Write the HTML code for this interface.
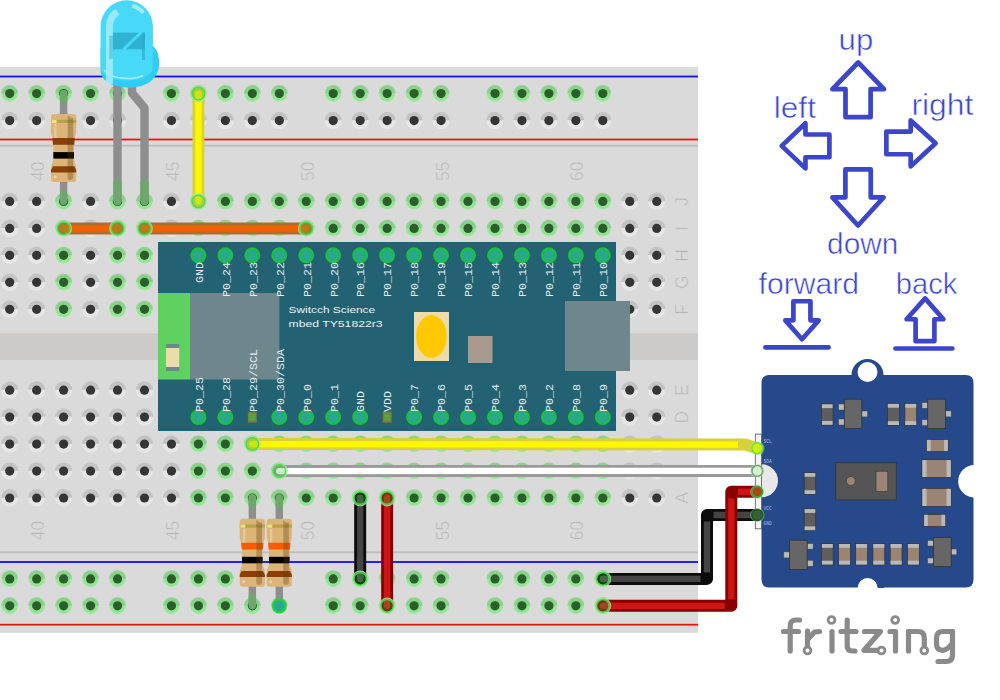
<!DOCTYPE html>
<html><head><meta charset="utf-8"><style>
html,body{margin:0;padding:0;background:#fff;width:1000px;height:700px;overflow:hidden}
svg{display:block}
text{font-family:"Liberation Sans",sans-serif}
</style></head><body>
<svg width="1000" height="700" viewBox="0 0 1000 700">
<rect x="0" y="0" width="1000" height="700" fill="#fff"/>
<rect x="-5" y="66.8" width="703" height="566" fill="#dadada"/>
<rect x="-5" y="333.3" width="703" height="26.7" fill="#cdcbc9"/>
<rect x="-5" y="75.6" width="703" height="1.8" fill="#1010f0"/>
<rect x="-5" y="138.6" width="703" height="1.8" fill="#f01010"/>
<rect x="-5" y="144.8" width="703" height="1.8" fill="#bdbdbd"/>
<rect x="-5" y="551.4" width="703" height="1.8" fill="#bdbdbd"/>
<rect x="-5" y="561.1" width="703" height="1.8" fill="#1010f0"/>
<rect x="-5" y="623.8" width="703" height="1.8" fill="#f01010"/>
<g transform="translate(9.70,93.60)"><circle r="8.6" fill="#e4e4e4"/><path d="M-8.6,-0.3A8.6,8.6 0 0 1 8.6,-0.3Z" fill="#c4c4c4"/><circle r="8.3" fill="#3ee83e" fill-opacity="0.42"/><circle r="6.8" fill="#3ee83e" fill-opacity="0.12"/><circle r="4.6" fill="#2b5e2b"/></g>
<g transform="translate(9.70,120.56)"><circle r="8.6" fill="#e6e6e6"/><path d="M-8.6,-0.3A8.6,8.6 0 0 1 8.6,-0.3Z" fill="#c3c3c3"/><circle r="4.6" fill="#353535"/></g>
<g transform="translate(9.70,578.88)"><circle r="8.6" fill="#e4e4e4"/><path d="M-8.6,-0.3A8.6,8.6 0 0 1 8.6,-0.3Z" fill="#c4c4c4"/><circle r="8.3" fill="#3ee83e" fill-opacity="0.42"/><circle r="6.8" fill="#3ee83e" fill-opacity="0.12"/><circle r="4.6" fill="#2b5e2b"/></g>
<g transform="translate(9.70,605.84)"><circle r="8.6" fill="#e4e4e4"/><path d="M-8.6,-0.3A8.6,8.6 0 0 1 8.6,-0.3Z" fill="#c4c4c4"/><circle r="8.3" fill="#3ee83e" fill-opacity="0.42"/><circle r="6.8" fill="#3ee83e" fill-opacity="0.12"/><circle r="4.6" fill="#2b5e2b"/></g>
<g transform="translate(36.66,93.60)"><circle r="8.6" fill="#e4e4e4"/><path d="M-8.6,-0.3A8.6,8.6 0 0 1 8.6,-0.3Z" fill="#c4c4c4"/><circle r="8.3" fill="#3ee83e" fill-opacity="0.42"/><circle r="6.8" fill="#3ee83e" fill-opacity="0.12"/><circle r="4.6" fill="#2b5e2b"/></g>
<g transform="translate(36.66,120.56)"><circle r="8.6" fill="#e6e6e6"/><path d="M-8.6,-0.3A8.6,8.6 0 0 1 8.6,-0.3Z" fill="#c3c3c3"/><circle r="4.6" fill="#353535"/></g>
<g transform="translate(36.66,578.88)"><circle r="8.6" fill="#e4e4e4"/><path d="M-8.6,-0.3A8.6,8.6 0 0 1 8.6,-0.3Z" fill="#c4c4c4"/><circle r="8.3" fill="#3ee83e" fill-opacity="0.42"/><circle r="6.8" fill="#3ee83e" fill-opacity="0.12"/><circle r="4.6" fill="#2b5e2b"/></g>
<g transform="translate(36.66,605.84)"><circle r="8.6" fill="#e4e4e4"/><path d="M-8.6,-0.3A8.6,8.6 0 0 1 8.6,-0.3Z" fill="#c4c4c4"/><circle r="8.3" fill="#3ee83e" fill-opacity="0.42"/><circle r="6.8" fill="#3ee83e" fill-opacity="0.12"/><circle r="4.6" fill="#2b5e2b"/></g>
<g transform="translate(63.62,93.60)"><circle r="8.6" fill="#e4e4e4"/><path d="M-8.6,-0.3A8.6,8.6 0 0 1 8.6,-0.3Z" fill="#c4c4c4"/><circle r="8.3" fill="#3ee83e" fill-opacity="0.42"/><circle r="6.8" fill="#3ee83e" fill-opacity="0.12"/><circle r="4.6" fill="#2b5e2b"/></g>
<g transform="translate(63.62,120.56)"><circle r="8.6" fill="#e6e6e6"/><path d="M-8.6,-0.3A8.6,8.6 0 0 1 8.6,-0.3Z" fill="#c3c3c3"/><circle r="4.6" fill="#353535"/></g>
<g transform="translate(63.62,578.88)"><circle r="8.6" fill="#e4e4e4"/><path d="M-8.6,-0.3A8.6,8.6 0 0 1 8.6,-0.3Z" fill="#c4c4c4"/><circle r="8.3" fill="#3ee83e" fill-opacity="0.42"/><circle r="6.8" fill="#3ee83e" fill-opacity="0.12"/><circle r="4.6" fill="#2b5e2b"/></g>
<g transform="translate(63.62,605.84)"><circle r="8.6" fill="#e4e4e4"/><path d="M-8.6,-0.3A8.6,8.6 0 0 1 8.6,-0.3Z" fill="#c4c4c4"/><circle r="8.3" fill="#3ee83e" fill-opacity="0.42"/><circle r="6.8" fill="#3ee83e" fill-opacity="0.12"/><circle r="4.6" fill="#2b5e2b"/></g>
<g transform="translate(90.58,93.60)"><circle r="8.6" fill="#e4e4e4"/><path d="M-8.6,-0.3A8.6,8.6 0 0 1 8.6,-0.3Z" fill="#c4c4c4"/><circle r="8.3" fill="#3ee83e" fill-opacity="0.42"/><circle r="6.8" fill="#3ee83e" fill-opacity="0.12"/><circle r="4.6" fill="#2b5e2b"/></g>
<g transform="translate(90.58,120.56)"><circle r="8.6" fill="#e6e6e6"/><path d="M-8.6,-0.3A8.6,8.6 0 0 1 8.6,-0.3Z" fill="#c3c3c3"/><circle r="4.6" fill="#353535"/></g>
<g transform="translate(90.58,578.88)"><circle r="8.6" fill="#e4e4e4"/><path d="M-8.6,-0.3A8.6,8.6 0 0 1 8.6,-0.3Z" fill="#c4c4c4"/><circle r="8.3" fill="#3ee83e" fill-opacity="0.42"/><circle r="6.8" fill="#3ee83e" fill-opacity="0.12"/><circle r="4.6" fill="#2b5e2b"/></g>
<g transform="translate(90.58,605.84)"><circle r="8.6" fill="#e4e4e4"/><path d="M-8.6,-0.3A8.6,8.6 0 0 1 8.6,-0.3Z" fill="#c4c4c4"/><circle r="8.3" fill="#3ee83e" fill-opacity="0.42"/><circle r="6.8" fill="#3ee83e" fill-opacity="0.12"/><circle r="4.6" fill="#2b5e2b"/></g>
<g transform="translate(117.54,93.60)"><circle r="8.6" fill="#e4e4e4"/><path d="M-8.6,-0.3A8.6,8.6 0 0 1 8.6,-0.3Z" fill="#c4c4c4"/><circle r="8.3" fill="#3ee83e" fill-opacity="0.42"/><circle r="6.8" fill="#3ee83e" fill-opacity="0.12"/><circle r="4.6" fill="#2b5e2b"/></g>
<g transform="translate(117.54,120.56)"><circle r="8.6" fill="#e6e6e6"/><path d="M-8.6,-0.3A8.6,8.6 0 0 1 8.6,-0.3Z" fill="#c3c3c3"/><circle r="4.6" fill="#353535"/></g>
<g transform="translate(117.54,578.88)"><circle r="8.6" fill="#e4e4e4"/><path d="M-8.6,-0.3A8.6,8.6 0 0 1 8.6,-0.3Z" fill="#c4c4c4"/><circle r="8.3" fill="#3ee83e" fill-opacity="0.42"/><circle r="6.8" fill="#3ee83e" fill-opacity="0.12"/><circle r="4.6" fill="#2b5e2b"/></g>
<g transform="translate(117.54,605.84)"><circle r="8.6" fill="#e4e4e4"/><path d="M-8.6,-0.3A8.6,8.6 0 0 1 8.6,-0.3Z" fill="#c4c4c4"/><circle r="8.3" fill="#3ee83e" fill-opacity="0.42"/><circle r="6.8" fill="#3ee83e" fill-opacity="0.12"/><circle r="4.6" fill="#2b5e2b"/></g>
<g transform="translate(171.46,93.60)"><circle r="8.6" fill="#e4e4e4"/><path d="M-8.6,-0.3A8.6,8.6 0 0 1 8.6,-0.3Z" fill="#c4c4c4"/><circle r="8.3" fill="#3ee83e" fill-opacity="0.42"/><circle r="6.8" fill="#3ee83e" fill-opacity="0.12"/><circle r="4.6" fill="#2b5e2b"/></g>
<g transform="translate(171.46,120.56)"><circle r="8.6" fill="#e6e6e6"/><path d="M-8.6,-0.3A8.6,8.6 0 0 1 8.6,-0.3Z" fill="#c3c3c3"/><circle r="4.6" fill="#353535"/></g>
<g transform="translate(171.46,578.88)"><circle r="8.6" fill="#e4e4e4"/><path d="M-8.6,-0.3A8.6,8.6 0 0 1 8.6,-0.3Z" fill="#c4c4c4"/><circle r="8.3" fill="#3ee83e" fill-opacity="0.42"/><circle r="6.8" fill="#3ee83e" fill-opacity="0.12"/><circle r="4.6" fill="#2b5e2b"/></g>
<g transform="translate(171.46,605.84)"><circle r="8.6" fill="#e4e4e4"/><path d="M-8.6,-0.3A8.6,8.6 0 0 1 8.6,-0.3Z" fill="#c4c4c4"/><circle r="8.3" fill="#3ee83e" fill-opacity="0.42"/><circle r="6.8" fill="#3ee83e" fill-opacity="0.12"/><circle r="4.6" fill="#2b5e2b"/></g>
<g transform="translate(198.42,93.60)"><circle r="8.6" fill="#e4e4e4"/><path d="M-8.6,-0.3A8.6,8.6 0 0 1 8.6,-0.3Z" fill="#c4c4c4"/><circle r="8.3" fill="#3ee83e" fill-opacity="0.42"/><circle r="6.8" fill="#3ee83e" fill-opacity="0.12"/><circle r="4.6" fill="#2b5e2b"/></g>
<g transform="translate(198.42,120.56)"><circle r="8.6" fill="#e6e6e6"/><path d="M-8.6,-0.3A8.6,8.6 0 0 1 8.6,-0.3Z" fill="#c3c3c3"/><circle r="4.6" fill="#353535"/></g>
<g transform="translate(198.42,578.88)"><circle r="8.6" fill="#e4e4e4"/><path d="M-8.6,-0.3A8.6,8.6 0 0 1 8.6,-0.3Z" fill="#c4c4c4"/><circle r="8.3" fill="#3ee83e" fill-opacity="0.42"/><circle r="6.8" fill="#3ee83e" fill-opacity="0.12"/><circle r="4.6" fill="#2b5e2b"/></g>
<g transform="translate(198.42,605.84)"><circle r="8.6" fill="#e4e4e4"/><path d="M-8.6,-0.3A8.6,8.6 0 0 1 8.6,-0.3Z" fill="#c4c4c4"/><circle r="8.3" fill="#3ee83e" fill-opacity="0.42"/><circle r="6.8" fill="#3ee83e" fill-opacity="0.12"/><circle r="4.6" fill="#2b5e2b"/></g>
<g transform="translate(225.38,93.60)"><circle r="8.6" fill="#e4e4e4"/><path d="M-8.6,-0.3A8.6,8.6 0 0 1 8.6,-0.3Z" fill="#c4c4c4"/><circle r="8.3" fill="#3ee83e" fill-opacity="0.42"/><circle r="6.8" fill="#3ee83e" fill-opacity="0.12"/><circle r="4.6" fill="#2b5e2b"/></g>
<g transform="translate(225.38,120.56)"><circle r="8.6" fill="#e6e6e6"/><path d="M-8.6,-0.3A8.6,8.6 0 0 1 8.6,-0.3Z" fill="#c3c3c3"/><circle r="4.6" fill="#353535"/></g>
<g transform="translate(225.38,578.88)"><circle r="8.6" fill="#e4e4e4"/><path d="M-8.6,-0.3A8.6,8.6 0 0 1 8.6,-0.3Z" fill="#c4c4c4"/><circle r="8.3" fill="#3ee83e" fill-opacity="0.42"/><circle r="6.8" fill="#3ee83e" fill-opacity="0.12"/><circle r="4.6" fill="#2b5e2b"/></g>
<g transform="translate(225.38,605.84)"><circle r="8.6" fill="#e4e4e4"/><path d="M-8.6,-0.3A8.6,8.6 0 0 1 8.6,-0.3Z" fill="#c4c4c4"/><circle r="8.3" fill="#3ee83e" fill-opacity="0.42"/><circle r="6.8" fill="#3ee83e" fill-opacity="0.12"/><circle r="4.6" fill="#2b5e2b"/></g>
<g transform="translate(252.34,93.60)"><circle r="8.6" fill="#e4e4e4"/><path d="M-8.6,-0.3A8.6,8.6 0 0 1 8.6,-0.3Z" fill="#c4c4c4"/><circle r="8.3" fill="#3ee83e" fill-opacity="0.42"/><circle r="6.8" fill="#3ee83e" fill-opacity="0.12"/><circle r="4.6" fill="#2b5e2b"/></g>
<g transform="translate(252.34,120.56)"><circle r="8.6" fill="#e6e6e6"/><path d="M-8.6,-0.3A8.6,8.6 0 0 1 8.6,-0.3Z" fill="#c3c3c3"/><circle r="4.6" fill="#353535"/></g>
<g transform="translate(252.34,578.88)"><circle r="8.6" fill="#e4e4e4"/><path d="M-8.6,-0.3A8.6,8.6 0 0 1 8.6,-0.3Z" fill="#c4c4c4"/><circle r="8.3" fill="#3ee83e" fill-opacity="0.42"/><circle r="6.8" fill="#3ee83e" fill-opacity="0.12"/><circle r="4.6" fill="#2b5e2b"/></g>
<g transform="translate(252.34,605.84)"><circle r="8.6" fill="#e4e4e4"/><path d="M-8.6,-0.3A8.6,8.6 0 0 1 8.6,-0.3Z" fill="#c4c4c4"/><circle r="8.3" fill="#3ee83e" fill-opacity="0.42"/><circle r="6.8" fill="#3ee83e" fill-opacity="0.12"/><circle r="4.6" fill="#2b5e2b"/></g>
<g transform="translate(279.30,93.60)"><circle r="8.6" fill="#e4e4e4"/><path d="M-8.6,-0.3A8.6,8.6 0 0 1 8.6,-0.3Z" fill="#c4c4c4"/><circle r="8.3" fill="#3ee83e" fill-opacity="0.42"/><circle r="6.8" fill="#3ee83e" fill-opacity="0.12"/><circle r="4.6" fill="#2b5e2b"/></g>
<g transform="translate(279.30,120.56)"><circle r="8.6" fill="#e6e6e6"/><path d="M-8.6,-0.3A8.6,8.6 0 0 1 8.6,-0.3Z" fill="#c3c3c3"/><circle r="4.6" fill="#353535"/></g>
<g transform="translate(279.30,578.88)"><circle r="8.6" fill="#e4e4e4"/><path d="M-8.6,-0.3A8.6,8.6 0 0 1 8.6,-0.3Z" fill="#c4c4c4"/><circle r="8.3" fill="#3ee83e" fill-opacity="0.42"/><circle r="6.8" fill="#3ee83e" fill-opacity="0.12"/><circle r="4.6" fill="#2b5e2b"/></g>
<g transform="translate(279.30,605.84)"><circle r="8.6" fill="#e4e4e4"/><path d="M-8.6,-0.3A8.6,8.6 0 0 1 8.6,-0.3Z" fill="#c4c4c4"/><circle r="8.3" fill="#3ee83e" fill-opacity="0.42"/><circle r="6.8" fill="#3ee83e" fill-opacity="0.12"/><circle r="4.6" fill="#2b5e2b"/></g>
<g transform="translate(333.22,93.60)"><circle r="8.6" fill="#e4e4e4"/><path d="M-8.6,-0.3A8.6,8.6 0 0 1 8.6,-0.3Z" fill="#c4c4c4"/><circle r="8.3" fill="#3ee83e" fill-opacity="0.42"/><circle r="6.8" fill="#3ee83e" fill-opacity="0.12"/><circle r="4.6" fill="#2b5e2b"/></g>
<g transform="translate(333.22,120.56)"><circle r="8.6" fill="#e6e6e6"/><path d="M-8.6,-0.3A8.6,8.6 0 0 1 8.6,-0.3Z" fill="#c3c3c3"/><circle r="4.6" fill="#353535"/></g>
<g transform="translate(333.22,578.88)"><circle r="8.6" fill="#e4e4e4"/><path d="M-8.6,-0.3A8.6,8.6 0 0 1 8.6,-0.3Z" fill="#c4c4c4"/><circle r="8.3" fill="#3ee83e" fill-opacity="0.42"/><circle r="6.8" fill="#3ee83e" fill-opacity="0.12"/><circle r="4.6" fill="#2b5e2b"/></g>
<g transform="translate(333.22,605.84)"><circle r="8.6" fill="#e4e4e4"/><path d="M-8.6,-0.3A8.6,8.6 0 0 1 8.6,-0.3Z" fill="#c4c4c4"/><circle r="8.3" fill="#3ee83e" fill-opacity="0.42"/><circle r="6.8" fill="#3ee83e" fill-opacity="0.12"/><circle r="4.6" fill="#2b5e2b"/></g>
<g transform="translate(360.18,93.60)"><circle r="8.6" fill="#e4e4e4"/><path d="M-8.6,-0.3A8.6,8.6 0 0 1 8.6,-0.3Z" fill="#c4c4c4"/><circle r="8.3" fill="#3ee83e" fill-opacity="0.42"/><circle r="6.8" fill="#3ee83e" fill-opacity="0.12"/><circle r="4.6" fill="#2b5e2b"/></g>
<g transform="translate(360.18,120.56)"><circle r="8.6" fill="#e6e6e6"/><path d="M-8.6,-0.3A8.6,8.6 0 0 1 8.6,-0.3Z" fill="#c3c3c3"/><circle r="4.6" fill="#353535"/></g>
<g transform="translate(360.18,578.88)"><circle r="8.6" fill="#e4e4e4"/><path d="M-8.6,-0.3A8.6,8.6 0 0 1 8.6,-0.3Z" fill="#c4c4c4"/><circle r="8.3" fill="#3ee83e" fill-opacity="0.42"/><circle r="6.8" fill="#3ee83e" fill-opacity="0.12"/><circle r="4.6" fill="#2b5e2b"/></g>
<g transform="translate(360.18,605.84)"><circle r="8.6" fill="#e4e4e4"/><path d="M-8.6,-0.3A8.6,8.6 0 0 1 8.6,-0.3Z" fill="#c4c4c4"/><circle r="8.3" fill="#3ee83e" fill-opacity="0.42"/><circle r="6.8" fill="#3ee83e" fill-opacity="0.12"/><circle r="4.6" fill="#2b5e2b"/></g>
<g transform="translate(387.14,93.60)"><circle r="8.6" fill="#e4e4e4"/><path d="M-8.6,-0.3A8.6,8.6 0 0 1 8.6,-0.3Z" fill="#c4c4c4"/><circle r="8.3" fill="#3ee83e" fill-opacity="0.42"/><circle r="6.8" fill="#3ee83e" fill-opacity="0.12"/><circle r="4.6" fill="#2b5e2b"/></g>
<g transform="translate(387.14,120.56)"><circle r="8.6" fill="#e6e6e6"/><path d="M-8.6,-0.3A8.6,8.6 0 0 1 8.6,-0.3Z" fill="#c3c3c3"/><circle r="4.6" fill="#353535"/></g>
<g transform="translate(387.14,578.88)"><circle r="8.6" fill="#e4e4e4"/><path d="M-8.6,-0.3A8.6,8.6 0 0 1 8.6,-0.3Z" fill="#c4c4c4"/><circle r="8.3" fill="#3ee83e" fill-opacity="0.42"/><circle r="6.8" fill="#3ee83e" fill-opacity="0.12"/><circle r="4.6" fill="#2b5e2b"/></g>
<g transform="translate(387.14,605.84)"><circle r="8.6" fill="#e4e4e4"/><path d="M-8.6,-0.3A8.6,8.6 0 0 1 8.6,-0.3Z" fill="#c4c4c4"/><circle r="8.3" fill="#3ee83e" fill-opacity="0.42"/><circle r="6.8" fill="#3ee83e" fill-opacity="0.12"/><circle r="4.6" fill="#2b5e2b"/></g>
<g transform="translate(414.10,93.60)"><circle r="8.6" fill="#e4e4e4"/><path d="M-8.6,-0.3A8.6,8.6 0 0 1 8.6,-0.3Z" fill="#c4c4c4"/><circle r="8.3" fill="#3ee83e" fill-opacity="0.42"/><circle r="6.8" fill="#3ee83e" fill-opacity="0.12"/><circle r="4.6" fill="#2b5e2b"/></g>
<g transform="translate(414.10,120.56)"><circle r="8.6" fill="#e6e6e6"/><path d="M-8.6,-0.3A8.6,8.6 0 0 1 8.6,-0.3Z" fill="#c3c3c3"/><circle r="4.6" fill="#353535"/></g>
<g transform="translate(414.10,578.88)"><circle r="8.6" fill="#e4e4e4"/><path d="M-8.6,-0.3A8.6,8.6 0 0 1 8.6,-0.3Z" fill="#c4c4c4"/><circle r="8.3" fill="#3ee83e" fill-opacity="0.42"/><circle r="6.8" fill="#3ee83e" fill-opacity="0.12"/><circle r="4.6" fill="#2b5e2b"/></g>
<g transform="translate(414.10,605.84)"><circle r="8.6" fill="#e4e4e4"/><path d="M-8.6,-0.3A8.6,8.6 0 0 1 8.6,-0.3Z" fill="#c4c4c4"/><circle r="8.3" fill="#3ee83e" fill-opacity="0.42"/><circle r="6.8" fill="#3ee83e" fill-opacity="0.12"/><circle r="4.6" fill="#2b5e2b"/></g>
<g transform="translate(441.06,93.60)"><circle r="8.6" fill="#e4e4e4"/><path d="M-8.6,-0.3A8.6,8.6 0 0 1 8.6,-0.3Z" fill="#c4c4c4"/><circle r="8.3" fill="#3ee83e" fill-opacity="0.42"/><circle r="6.8" fill="#3ee83e" fill-opacity="0.12"/><circle r="4.6" fill="#2b5e2b"/></g>
<g transform="translate(441.06,120.56)"><circle r="8.6" fill="#e6e6e6"/><path d="M-8.6,-0.3A8.6,8.6 0 0 1 8.6,-0.3Z" fill="#c3c3c3"/><circle r="4.6" fill="#353535"/></g>
<g transform="translate(441.06,578.88)"><circle r="8.6" fill="#e4e4e4"/><path d="M-8.6,-0.3A8.6,8.6 0 0 1 8.6,-0.3Z" fill="#c4c4c4"/><circle r="8.3" fill="#3ee83e" fill-opacity="0.42"/><circle r="6.8" fill="#3ee83e" fill-opacity="0.12"/><circle r="4.6" fill="#2b5e2b"/></g>
<g transform="translate(441.06,605.84)"><circle r="8.6" fill="#e4e4e4"/><path d="M-8.6,-0.3A8.6,8.6 0 0 1 8.6,-0.3Z" fill="#c4c4c4"/><circle r="8.3" fill="#3ee83e" fill-opacity="0.42"/><circle r="6.8" fill="#3ee83e" fill-opacity="0.12"/><circle r="4.6" fill="#2b5e2b"/></g>
<g transform="translate(494.98,93.60)"><circle r="8.6" fill="#e4e4e4"/><path d="M-8.6,-0.3A8.6,8.6 0 0 1 8.6,-0.3Z" fill="#c4c4c4"/><circle r="8.3" fill="#3ee83e" fill-opacity="0.42"/><circle r="6.8" fill="#3ee83e" fill-opacity="0.12"/><circle r="4.6" fill="#2b5e2b"/></g>
<g transform="translate(494.98,120.56)"><circle r="8.6" fill="#e6e6e6"/><path d="M-8.6,-0.3A8.6,8.6 0 0 1 8.6,-0.3Z" fill="#c3c3c3"/><circle r="4.6" fill="#353535"/></g>
<g transform="translate(494.98,578.88)"><circle r="8.6" fill="#e4e4e4"/><path d="M-8.6,-0.3A8.6,8.6 0 0 1 8.6,-0.3Z" fill="#c4c4c4"/><circle r="8.3" fill="#3ee83e" fill-opacity="0.42"/><circle r="6.8" fill="#3ee83e" fill-opacity="0.12"/><circle r="4.6" fill="#2b5e2b"/></g>
<g transform="translate(494.98,605.84)"><circle r="8.6" fill="#e4e4e4"/><path d="M-8.6,-0.3A8.6,8.6 0 0 1 8.6,-0.3Z" fill="#c4c4c4"/><circle r="8.3" fill="#3ee83e" fill-opacity="0.42"/><circle r="6.8" fill="#3ee83e" fill-opacity="0.12"/><circle r="4.6" fill="#2b5e2b"/></g>
<g transform="translate(521.94,93.60)"><circle r="8.6" fill="#e4e4e4"/><path d="M-8.6,-0.3A8.6,8.6 0 0 1 8.6,-0.3Z" fill="#c4c4c4"/><circle r="8.3" fill="#3ee83e" fill-opacity="0.42"/><circle r="6.8" fill="#3ee83e" fill-opacity="0.12"/><circle r="4.6" fill="#2b5e2b"/></g>
<g transform="translate(521.94,120.56)"><circle r="8.6" fill="#e6e6e6"/><path d="M-8.6,-0.3A8.6,8.6 0 0 1 8.6,-0.3Z" fill="#c3c3c3"/><circle r="4.6" fill="#353535"/></g>
<g transform="translate(521.94,578.88)"><circle r="8.6" fill="#e4e4e4"/><path d="M-8.6,-0.3A8.6,8.6 0 0 1 8.6,-0.3Z" fill="#c4c4c4"/><circle r="8.3" fill="#3ee83e" fill-opacity="0.42"/><circle r="6.8" fill="#3ee83e" fill-opacity="0.12"/><circle r="4.6" fill="#2b5e2b"/></g>
<g transform="translate(521.94,605.84)"><circle r="8.6" fill="#e4e4e4"/><path d="M-8.6,-0.3A8.6,8.6 0 0 1 8.6,-0.3Z" fill="#c4c4c4"/><circle r="8.3" fill="#3ee83e" fill-opacity="0.42"/><circle r="6.8" fill="#3ee83e" fill-opacity="0.12"/><circle r="4.6" fill="#2b5e2b"/></g>
<g transform="translate(548.90,93.60)"><circle r="8.6" fill="#e4e4e4"/><path d="M-8.6,-0.3A8.6,8.6 0 0 1 8.6,-0.3Z" fill="#c4c4c4"/><circle r="8.3" fill="#3ee83e" fill-opacity="0.42"/><circle r="6.8" fill="#3ee83e" fill-opacity="0.12"/><circle r="4.6" fill="#2b5e2b"/></g>
<g transform="translate(548.90,120.56)"><circle r="8.6" fill="#e6e6e6"/><path d="M-8.6,-0.3A8.6,8.6 0 0 1 8.6,-0.3Z" fill="#c3c3c3"/><circle r="4.6" fill="#353535"/></g>
<g transform="translate(548.90,578.88)"><circle r="8.6" fill="#e4e4e4"/><path d="M-8.6,-0.3A8.6,8.6 0 0 1 8.6,-0.3Z" fill="#c4c4c4"/><circle r="8.3" fill="#3ee83e" fill-opacity="0.42"/><circle r="6.8" fill="#3ee83e" fill-opacity="0.12"/><circle r="4.6" fill="#2b5e2b"/></g>
<g transform="translate(548.90,605.84)"><circle r="8.6" fill="#e4e4e4"/><path d="M-8.6,-0.3A8.6,8.6 0 0 1 8.6,-0.3Z" fill="#c4c4c4"/><circle r="8.3" fill="#3ee83e" fill-opacity="0.42"/><circle r="6.8" fill="#3ee83e" fill-opacity="0.12"/><circle r="4.6" fill="#2b5e2b"/></g>
<g transform="translate(575.86,93.60)"><circle r="8.6" fill="#e4e4e4"/><path d="M-8.6,-0.3A8.6,8.6 0 0 1 8.6,-0.3Z" fill="#c4c4c4"/><circle r="8.3" fill="#3ee83e" fill-opacity="0.42"/><circle r="6.8" fill="#3ee83e" fill-opacity="0.12"/><circle r="4.6" fill="#2b5e2b"/></g>
<g transform="translate(575.86,120.56)"><circle r="8.6" fill="#e6e6e6"/><path d="M-8.6,-0.3A8.6,8.6 0 0 1 8.6,-0.3Z" fill="#c3c3c3"/><circle r="4.6" fill="#353535"/></g>
<g transform="translate(575.86,578.88)"><circle r="8.6" fill="#e4e4e4"/><path d="M-8.6,-0.3A8.6,8.6 0 0 1 8.6,-0.3Z" fill="#c4c4c4"/><circle r="8.3" fill="#3ee83e" fill-opacity="0.42"/><circle r="6.8" fill="#3ee83e" fill-opacity="0.12"/><circle r="4.6" fill="#2b5e2b"/></g>
<g transform="translate(575.86,605.84)"><circle r="8.6" fill="#e4e4e4"/><path d="M-8.6,-0.3A8.6,8.6 0 0 1 8.6,-0.3Z" fill="#c4c4c4"/><circle r="8.3" fill="#3ee83e" fill-opacity="0.42"/><circle r="6.8" fill="#3ee83e" fill-opacity="0.12"/><circle r="4.6" fill="#2b5e2b"/></g>
<g transform="translate(602.82,93.60)"><circle r="8.6" fill="#e4e4e4"/><path d="M-8.6,-0.3A8.6,8.6 0 0 1 8.6,-0.3Z" fill="#c4c4c4"/><circle r="8.3" fill="#3ee83e" fill-opacity="0.42"/><circle r="6.8" fill="#3ee83e" fill-opacity="0.12"/><circle r="4.6" fill="#2b5e2b"/></g>
<g transform="translate(602.82,120.56)"><circle r="8.6" fill="#e6e6e6"/><path d="M-8.6,-0.3A8.6,8.6 0 0 1 8.6,-0.3Z" fill="#c3c3c3"/><circle r="4.6" fill="#353535"/></g>
<g transform="translate(602.82,578.88)"><circle r="8.6" fill="#e4e4e4"/><path d="M-8.6,-0.3A8.6,8.6 0 0 1 8.6,-0.3Z" fill="#c4c4c4"/><circle r="8.3" fill="#3ee83e" fill-opacity="0.42"/><circle r="6.8" fill="#3ee83e" fill-opacity="0.12"/><circle r="4.6" fill="#2b5e2b"/></g>
<g transform="translate(602.82,605.84)"><circle r="8.6" fill="#e4e4e4"/><path d="M-8.6,-0.3A8.6,8.6 0 0 1 8.6,-0.3Z" fill="#c4c4c4"/><circle r="8.3" fill="#3ee83e" fill-opacity="0.42"/><circle r="6.8" fill="#3ee83e" fill-opacity="0.12"/><circle r="4.6" fill="#2b5e2b"/></g>
<g transform="translate(9.70,201.44)"><circle r="8.6" fill="#e6e6e6"/><path d="M-8.6,-0.3A8.6,8.6 0 0 1 8.6,-0.3Z" fill="#c3c3c3"/><circle r="4.6" fill="#353535"/></g>
<g transform="translate(9.70,228.40)"><circle r="8.6" fill="#e6e6e6"/><path d="M-8.6,-0.3A8.6,8.6 0 0 1 8.6,-0.3Z" fill="#c3c3c3"/><circle r="4.6" fill="#353535"/></g>
<g transform="translate(9.70,255.36)"><circle r="8.6" fill="#e6e6e6"/><path d="M-8.6,-0.3A8.6,8.6 0 0 1 8.6,-0.3Z" fill="#c3c3c3"/><circle r="4.6" fill="#353535"/></g>
<g transform="translate(9.70,282.32)"><circle r="8.6" fill="#e6e6e6"/><path d="M-8.6,-0.3A8.6,8.6 0 0 1 8.6,-0.3Z" fill="#c3c3c3"/><circle r="4.6" fill="#353535"/></g>
<g transform="translate(9.70,309.28)"><circle r="8.6" fill="#e6e6e6"/><path d="M-8.6,-0.3A8.6,8.6 0 0 1 8.6,-0.3Z" fill="#c3c3c3"/><circle r="4.6" fill="#353535"/></g>
<g transform="translate(9.70,390.16)"><circle r="8.6" fill="#e6e6e6"/><path d="M-8.6,-0.3A8.6,8.6 0 0 1 8.6,-0.3Z" fill="#c3c3c3"/><circle r="4.6" fill="#353535"/></g>
<g transform="translate(9.70,417.12)"><circle r="8.6" fill="#e6e6e6"/><path d="M-8.6,-0.3A8.6,8.6 0 0 1 8.6,-0.3Z" fill="#c3c3c3"/><circle r="4.6" fill="#353535"/></g>
<g transform="translate(9.70,444.08)"><circle r="8.6" fill="#e6e6e6"/><path d="M-8.6,-0.3A8.6,8.6 0 0 1 8.6,-0.3Z" fill="#c3c3c3"/><circle r="4.6" fill="#353535"/></g>
<g transform="translate(9.70,471.04)"><circle r="8.6" fill="#e6e6e6"/><path d="M-8.6,-0.3A8.6,8.6 0 0 1 8.6,-0.3Z" fill="#c3c3c3"/><circle r="4.6" fill="#353535"/></g>
<g transform="translate(9.70,498.00)"><circle r="8.6" fill="#e6e6e6"/><path d="M-8.6,-0.3A8.6,8.6 0 0 1 8.6,-0.3Z" fill="#c3c3c3"/><circle r="4.6" fill="#353535"/></g>
<g transform="translate(36.66,201.44)"><circle r="8.6" fill="#e6e6e6"/><path d="M-8.6,-0.3A8.6,8.6 0 0 1 8.6,-0.3Z" fill="#c3c3c3"/><circle r="4.6" fill="#353535"/></g>
<g transform="translate(36.66,228.40)"><circle r="8.6" fill="#e6e6e6"/><path d="M-8.6,-0.3A8.6,8.6 0 0 1 8.6,-0.3Z" fill="#c3c3c3"/><circle r="4.6" fill="#353535"/></g>
<g transform="translate(36.66,255.36)"><circle r="8.6" fill="#e6e6e6"/><path d="M-8.6,-0.3A8.6,8.6 0 0 1 8.6,-0.3Z" fill="#c3c3c3"/><circle r="4.6" fill="#353535"/></g>
<g transform="translate(36.66,282.32)"><circle r="8.6" fill="#e6e6e6"/><path d="M-8.6,-0.3A8.6,8.6 0 0 1 8.6,-0.3Z" fill="#c3c3c3"/><circle r="4.6" fill="#353535"/></g>
<g transform="translate(36.66,309.28)"><circle r="8.6" fill="#e6e6e6"/><path d="M-8.6,-0.3A8.6,8.6 0 0 1 8.6,-0.3Z" fill="#c3c3c3"/><circle r="4.6" fill="#353535"/></g>
<g transform="translate(36.66,390.16)"><circle r="8.6" fill="#e6e6e6"/><path d="M-8.6,-0.3A8.6,8.6 0 0 1 8.6,-0.3Z" fill="#c3c3c3"/><circle r="4.6" fill="#353535"/></g>
<g transform="translate(36.66,417.12)"><circle r="8.6" fill="#e6e6e6"/><path d="M-8.6,-0.3A8.6,8.6 0 0 1 8.6,-0.3Z" fill="#c3c3c3"/><circle r="4.6" fill="#353535"/></g>
<g transform="translate(36.66,444.08)"><circle r="8.6" fill="#e6e6e6"/><path d="M-8.6,-0.3A8.6,8.6 0 0 1 8.6,-0.3Z" fill="#c3c3c3"/><circle r="4.6" fill="#353535"/></g>
<g transform="translate(36.66,471.04)"><circle r="8.6" fill="#e6e6e6"/><path d="M-8.6,-0.3A8.6,8.6 0 0 1 8.6,-0.3Z" fill="#c3c3c3"/><circle r="4.6" fill="#353535"/></g>
<g transform="translate(36.66,498.00)"><circle r="8.6" fill="#e6e6e6"/><path d="M-8.6,-0.3A8.6,8.6 0 0 1 8.6,-0.3Z" fill="#c3c3c3"/><circle r="4.6" fill="#353535"/></g>
<g transform="translate(63.62,201.44)"><circle r="8.6" fill="#e4e4e4"/><path d="M-8.6,-0.3A8.6,8.6 0 0 1 8.6,-0.3Z" fill="#c4c4c4"/><circle r="8.3" fill="#3ee83e" fill-opacity="0.42"/><circle r="6.8" fill="#3ee83e" fill-opacity="0.12"/><circle r="4.6" fill="#2b5e2b"/></g>
<g transform="translate(63.62,228.40)"><circle r="8.6" fill="#e4e4e4"/><path d="M-8.6,-0.3A8.6,8.6 0 0 1 8.6,-0.3Z" fill="#c4c4c4"/><circle r="8.3" fill="#3ee83e" fill-opacity="0.42"/><circle r="6.8" fill="#3ee83e" fill-opacity="0.12"/><circle r="4.6" fill="#2b5e2b"/></g>
<g transform="translate(63.62,255.36)"><circle r="8.6" fill="#e4e4e4"/><path d="M-8.6,-0.3A8.6,8.6 0 0 1 8.6,-0.3Z" fill="#c4c4c4"/><circle r="8.3" fill="#3ee83e" fill-opacity="0.42"/><circle r="6.8" fill="#3ee83e" fill-opacity="0.12"/><circle r="4.6" fill="#2b5e2b"/></g>
<g transform="translate(63.62,282.32)"><circle r="8.6" fill="#e4e4e4"/><path d="M-8.6,-0.3A8.6,8.6 0 0 1 8.6,-0.3Z" fill="#c4c4c4"/><circle r="8.3" fill="#3ee83e" fill-opacity="0.42"/><circle r="6.8" fill="#3ee83e" fill-opacity="0.12"/><circle r="4.6" fill="#2b5e2b"/></g>
<g transform="translate(63.62,309.28)"><circle r="8.6" fill="#e4e4e4"/><path d="M-8.6,-0.3A8.6,8.6 0 0 1 8.6,-0.3Z" fill="#c4c4c4"/><circle r="8.3" fill="#3ee83e" fill-opacity="0.42"/><circle r="6.8" fill="#3ee83e" fill-opacity="0.12"/><circle r="4.6" fill="#2b5e2b"/></g>
<g transform="translate(63.62,390.16)"><circle r="8.6" fill="#e6e6e6"/><path d="M-8.6,-0.3A8.6,8.6 0 0 1 8.6,-0.3Z" fill="#c3c3c3"/><circle r="4.6" fill="#353535"/></g>
<g transform="translate(63.62,417.12)"><circle r="8.6" fill="#e6e6e6"/><path d="M-8.6,-0.3A8.6,8.6 0 0 1 8.6,-0.3Z" fill="#c3c3c3"/><circle r="4.6" fill="#353535"/></g>
<g transform="translate(63.62,444.08)"><circle r="8.6" fill="#e6e6e6"/><path d="M-8.6,-0.3A8.6,8.6 0 0 1 8.6,-0.3Z" fill="#c3c3c3"/><circle r="4.6" fill="#353535"/></g>
<g transform="translate(63.62,471.04)"><circle r="8.6" fill="#e6e6e6"/><path d="M-8.6,-0.3A8.6,8.6 0 0 1 8.6,-0.3Z" fill="#c3c3c3"/><circle r="4.6" fill="#353535"/></g>
<g transform="translate(63.62,498.00)"><circle r="8.6" fill="#e6e6e6"/><path d="M-8.6,-0.3A8.6,8.6 0 0 1 8.6,-0.3Z" fill="#c3c3c3"/><circle r="4.6" fill="#353535"/></g>
<g transform="translate(90.58,201.44)"><circle r="8.6" fill="#e6e6e6"/><path d="M-8.6,-0.3A8.6,8.6 0 0 1 8.6,-0.3Z" fill="#c3c3c3"/><circle r="4.6" fill="#353535"/></g>
<g transform="translate(90.58,228.40)"><circle r="8.6" fill="#e6e6e6"/><path d="M-8.6,-0.3A8.6,8.6 0 0 1 8.6,-0.3Z" fill="#c3c3c3"/><circle r="4.6" fill="#353535"/></g>
<g transform="translate(90.58,255.36)"><circle r="8.6" fill="#e6e6e6"/><path d="M-8.6,-0.3A8.6,8.6 0 0 1 8.6,-0.3Z" fill="#c3c3c3"/><circle r="4.6" fill="#353535"/></g>
<g transform="translate(90.58,282.32)"><circle r="8.6" fill="#e6e6e6"/><path d="M-8.6,-0.3A8.6,8.6 0 0 1 8.6,-0.3Z" fill="#c3c3c3"/><circle r="4.6" fill="#353535"/></g>
<g transform="translate(90.58,309.28)"><circle r="8.6" fill="#e6e6e6"/><path d="M-8.6,-0.3A8.6,8.6 0 0 1 8.6,-0.3Z" fill="#c3c3c3"/><circle r="4.6" fill="#353535"/></g>
<g transform="translate(90.58,390.16)"><circle r="8.6" fill="#e6e6e6"/><path d="M-8.6,-0.3A8.6,8.6 0 0 1 8.6,-0.3Z" fill="#c3c3c3"/><circle r="4.6" fill="#353535"/></g>
<g transform="translate(90.58,417.12)"><circle r="8.6" fill="#e6e6e6"/><path d="M-8.6,-0.3A8.6,8.6 0 0 1 8.6,-0.3Z" fill="#c3c3c3"/><circle r="4.6" fill="#353535"/></g>
<g transform="translate(90.58,444.08)"><circle r="8.6" fill="#e6e6e6"/><path d="M-8.6,-0.3A8.6,8.6 0 0 1 8.6,-0.3Z" fill="#c3c3c3"/><circle r="4.6" fill="#353535"/></g>
<g transform="translate(90.58,471.04)"><circle r="8.6" fill="#e6e6e6"/><path d="M-8.6,-0.3A8.6,8.6 0 0 1 8.6,-0.3Z" fill="#c3c3c3"/><circle r="4.6" fill="#353535"/></g>
<g transform="translate(90.58,498.00)"><circle r="8.6" fill="#e6e6e6"/><path d="M-8.6,-0.3A8.6,8.6 0 0 1 8.6,-0.3Z" fill="#c3c3c3"/><circle r="4.6" fill="#353535"/></g>
<g transform="translate(117.54,201.44)"><circle r="8.6" fill="#e4e4e4"/><path d="M-8.6,-0.3A8.6,8.6 0 0 1 8.6,-0.3Z" fill="#c4c4c4"/><circle r="8.3" fill="#3ee83e" fill-opacity="0.42"/><circle r="6.8" fill="#3ee83e" fill-opacity="0.12"/><circle r="4.6" fill="#2b5e2b"/></g>
<g transform="translate(117.54,228.40)"><circle r="8.6" fill="#e4e4e4"/><path d="M-8.6,-0.3A8.6,8.6 0 0 1 8.6,-0.3Z" fill="#c4c4c4"/><circle r="8.3" fill="#3ee83e" fill-opacity="0.42"/><circle r="6.8" fill="#3ee83e" fill-opacity="0.12"/><circle r="4.6" fill="#2b5e2b"/></g>
<g transform="translate(117.54,255.36)"><circle r="8.6" fill="#e4e4e4"/><path d="M-8.6,-0.3A8.6,8.6 0 0 1 8.6,-0.3Z" fill="#c4c4c4"/><circle r="8.3" fill="#3ee83e" fill-opacity="0.42"/><circle r="6.8" fill="#3ee83e" fill-opacity="0.12"/><circle r="4.6" fill="#2b5e2b"/></g>
<g transform="translate(117.54,282.32)"><circle r="8.6" fill="#e4e4e4"/><path d="M-8.6,-0.3A8.6,8.6 0 0 1 8.6,-0.3Z" fill="#c4c4c4"/><circle r="8.3" fill="#3ee83e" fill-opacity="0.42"/><circle r="6.8" fill="#3ee83e" fill-opacity="0.12"/><circle r="4.6" fill="#2b5e2b"/></g>
<g transform="translate(117.54,309.28)"><circle r="8.6" fill="#e4e4e4"/><path d="M-8.6,-0.3A8.6,8.6 0 0 1 8.6,-0.3Z" fill="#c4c4c4"/><circle r="8.3" fill="#3ee83e" fill-opacity="0.42"/><circle r="6.8" fill="#3ee83e" fill-opacity="0.12"/><circle r="4.6" fill="#2b5e2b"/></g>
<g transform="translate(117.54,390.16)"><circle r="8.6" fill="#e6e6e6"/><path d="M-8.6,-0.3A8.6,8.6 0 0 1 8.6,-0.3Z" fill="#c3c3c3"/><circle r="4.6" fill="#353535"/></g>
<g transform="translate(117.54,417.12)"><circle r="8.6" fill="#e6e6e6"/><path d="M-8.6,-0.3A8.6,8.6 0 0 1 8.6,-0.3Z" fill="#c3c3c3"/><circle r="4.6" fill="#353535"/></g>
<g transform="translate(117.54,444.08)"><circle r="8.6" fill="#e6e6e6"/><path d="M-8.6,-0.3A8.6,8.6 0 0 1 8.6,-0.3Z" fill="#c3c3c3"/><circle r="4.6" fill="#353535"/></g>
<g transform="translate(117.54,471.04)"><circle r="8.6" fill="#e6e6e6"/><path d="M-8.6,-0.3A8.6,8.6 0 0 1 8.6,-0.3Z" fill="#c3c3c3"/><circle r="4.6" fill="#353535"/></g>
<g transform="translate(117.54,498.00)"><circle r="8.6" fill="#e6e6e6"/><path d="M-8.6,-0.3A8.6,8.6 0 0 1 8.6,-0.3Z" fill="#c3c3c3"/><circle r="4.6" fill="#353535"/></g>
<g transform="translate(144.50,201.44)"><circle r="8.6" fill="#e4e4e4"/><path d="M-8.6,-0.3A8.6,8.6 0 0 1 8.6,-0.3Z" fill="#c4c4c4"/><circle r="8.3" fill="#3ee83e" fill-opacity="0.42"/><circle r="6.8" fill="#3ee83e" fill-opacity="0.12"/><circle r="4.6" fill="#2b5e2b"/></g>
<g transform="translate(144.50,228.40)"><circle r="8.6" fill="#e4e4e4"/><path d="M-8.6,-0.3A8.6,8.6 0 0 1 8.6,-0.3Z" fill="#c4c4c4"/><circle r="8.3" fill="#3ee83e" fill-opacity="0.42"/><circle r="6.8" fill="#3ee83e" fill-opacity="0.12"/><circle r="4.6" fill="#2b5e2b"/></g>
<g transform="translate(144.50,255.36)"><circle r="8.6" fill="#e4e4e4"/><path d="M-8.6,-0.3A8.6,8.6 0 0 1 8.6,-0.3Z" fill="#c4c4c4"/><circle r="8.3" fill="#3ee83e" fill-opacity="0.42"/><circle r="6.8" fill="#3ee83e" fill-opacity="0.12"/><circle r="4.6" fill="#2b5e2b"/></g>
<g transform="translate(144.50,282.32)"><circle r="8.6" fill="#e4e4e4"/><path d="M-8.6,-0.3A8.6,8.6 0 0 1 8.6,-0.3Z" fill="#c4c4c4"/><circle r="8.3" fill="#3ee83e" fill-opacity="0.42"/><circle r="6.8" fill="#3ee83e" fill-opacity="0.12"/><circle r="4.6" fill="#2b5e2b"/></g>
<g transform="translate(144.50,309.28)"><circle r="8.6" fill="#e4e4e4"/><path d="M-8.6,-0.3A8.6,8.6 0 0 1 8.6,-0.3Z" fill="#c4c4c4"/><circle r="8.3" fill="#3ee83e" fill-opacity="0.42"/><circle r="6.8" fill="#3ee83e" fill-opacity="0.12"/><circle r="4.6" fill="#2b5e2b"/></g>
<g transform="translate(144.50,390.16)"><circle r="8.6" fill="#e6e6e6"/><path d="M-8.6,-0.3A8.6,8.6 0 0 1 8.6,-0.3Z" fill="#c3c3c3"/><circle r="4.6" fill="#353535"/></g>
<g transform="translate(144.50,417.12)"><circle r="8.6" fill="#e6e6e6"/><path d="M-8.6,-0.3A8.6,8.6 0 0 1 8.6,-0.3Z" fill="#c3c3c3"/><circle r="4.6" fill="#353535"/></g>
<g transform="translate(144.50,444.08)"><circle r="8.6" fill="#e6e6e6"/><path d="M-8.6,-0.3A8.6,8.6 0 0 1 8.6,-0.3Z" fill="#c3c3c3"/><circle r="4.6" fill="#353535"/></g>
<g transform="translate(144.50,471.04)"><circle r="8.6" fill="#e6e6e6"/><path d="M-8.6,-0.3A8.6,8.6 0 0 1 8.6,-0.3Z" fill="#c3c3c3"/><circle r="4.6" fill="#353535"/></g>
<g transform="translate(144.50,498.00)"><circle r="8.6" fill="#e6e6e6"/><path d="M-8.6,-0.3A8.6,8.6 0 0 1 8.6,-0.3Z" fill="#c3c3c3"/><circle r="4.6" fill="#353535"/></g>
<g transform="translate(171.46,201.44)"><circle r="8.6" fill="#e6e6e6"/><path d="M-8.6,-0.3A8.6,8.6 0 0 1 8.6,-0.3Z" fill="#c3c3c3"/><circle r="4.6" fill="#353535"/></g>
<g transform="translate(171.46,228.40)"><circle r="8.6" fill="#e6e6e6"/><path d="M-8.6,-0.3A8.6,8.6 0 0 1 8.6,-0.3Z" fill="#c3c3c3"/><circle r="4.6" fill="#353535"/></g>
<g transform="translate(171.46,255.36)"><circle r="8.6" fill="#e6e6e6"/><path d="M-8.6,-0.3A8.6,8.6 0 0 1 8.6,-0.3Z" fill="#c3c3c3"/><circle r="4.6" fill="#353535"/></g>
<g transform="translate(171.46,282.32)"><circle r="8.6" fill="#e6e6e6"/><path d="M-8.6,-0.3A8.6,8.6 0 0 1 8.6,-0.3Z" fill="#c3c3c3"/><circle r="4.6" fill="#353535"/></g>
<g transform="translate(171.46,309.28)"><circle r="8.6" fill="#e6e6e6"/><path d="M-8.6,-0.3A8.6,8.6 0 0 1 8.6,-0.3Z" fill="#c3c3c3"/><circle r="4.6" fill="#353535"/></g>
<g transform="translate(171.46,390.16)"><circle r="8.6" fill="#e6e6e6"/><path d="M-8.6,-0.3A8.6,8.6 0 0 1 8.6,-0.3Z" fill="#c3c3c3"/><circle r="4.6" fill="#353535"/></g>
<g transform="translate(171.46,417.12)"><circle r="8.6" fill="#e6e6e6"/><path d="M-8.6,-0.3A8.6,8.6 0 0 1 8.6,-0.3Z" fill="#c3c3c3"/><circle r="4.6" fill="#353535"/></g>
<g transform="translate(171.46,444.08)"><circle r="8.6" fill="#e6e6e6"/><path d="M-8.6,-0.3A8.6,8.6 0 0 1 8.6,-0.3Z" fill="#c3c3c3"/><circle r="4.6" fill="#353535"/></g>
<g transform="translate(171.46,471.04)"><circle r="8.6" fill="#e6e6e6"/><path d="M-8.6,-0.3A8.6,8.6 0 0 1 8.6,-0.3Z" fill="#c3c3c3"/><circle r="4.6" fill="#353535"/></g>
<g transform="translate(171.46,498.00)"><circle r="8.6" fill="#e6e6e6"/><path d="M-8.6,-0.3A8.6,8.6 0 0 1 8.6,-0.3Z" fill="#c3c3c3"/><circle r="4.6" fill="#353535"/></g>
<g transform="translate(198.42,201.44)"><circle r="8.6" fill="#e4e4e4"/><path d="M-8.6,-0.3A8.6,8.6 0 0 1 8.6,-0.3Z" fill="#c4c4c4"/><circle r="8.3" fill="#3ee83e" fill-opacity="0.42"/><circle r="6.8" fill="#3ee83e" fill-opacity="0.12"/><circle r="4.6" fill="#2b5e2b"/></g>
<g transform="translate(198.42,228.40)"><circle r="8.6" fill="#e4e4e4"/><path d="M-8.6,-0.3A8.6,8.6 0 0 1 8.6,-0.3Z" fill="#c4c4c4"/><circle r="8.3" fill="#3ee83e" fill-opacity="0.42"/><circle r="6.8" fill="#3ee83e" fill-opacity="0.12"/><circle r="4.6" fill="#2b5e2b"/></g>
<g transform="translate(198.42,255.36)"><circle r="8.6" fill="#e4e4e4"/><path d="M-8.6,-0.3A8.6,8.6 0 0 1 8.6,-0.3Z" fill="#c4c4c4"/><circle r="8.3" fill="#3ee83e" fill-opacity="0.42"/><circle r="6.8" fill="#3ee83e" fill-opacity="0.12"/><circle r="4.6" fill="#2b5e2b"/></g>
<g transform="translate(198.42,282.32)"><circle r="8.6" fill="#e4e4e4"/><path d="M-8.6,-0.3A8.6,8.6 0 0 1 8.6,-0.3Z" fill="#c4c4c4"/><circle r="8.3" fill="#3ee83e" fill-opacity="0.42"/><circle r="6.8" fill="#3ee83e" fill-opacity="0.12"/><circle r="4.6" fill="#2b5e2b"/></g>
<g transform="translate(198.42,309.28)"><circle r="8.6" fill="#e4e4e4"/><path d="M-8.6,-0.3A8.6,8.6 0 0 1 8.6,-0.3Z" fill="#c4c4c4"/><circle r="8.3" fill="#3ee83e" fill-opacity="0.42"/><circle r="6.8" fill="#3ee83e" fill-opacity="0.12"/><circle r="4.6" fill="#2b5e2b"/></g>
<g transform="translate(198.42,390.16)"><circle r="8.6" fill="#e4e4e4"/><path d="M-8.6,-0.3A8.6,8.6 0 0 1 8.6,-0.3Z" fill="#c4c4c4"/><circle r="8.3" fill="#3ee83e" fill-opacity="0.42"/><circle r="6.8" fill="#3ee83e" fill-opacity="0.12"/><circle r="4.6" fill="#2b5e2b"/></g>
<g transform="translate(198.42,417.12)"><circle r="8.6" fill="#e4e4e4"/><path d="M-8.6,-0.3A8.6,8.6 0 0 1 8.6,-0.3Z" fill="#c4c4c4"/><circle r="8.3" fill="#3ee83e" fill-opacity="0.42"/><circle r="6.8" fill="#3ee83e" fill-opacity="0.12"/><circle r="4.6" fill="#2b5e2b"/></g>
<g transform="translate(198.42,444.08)"><circle r="8.6" fill="#e4e4e4"/><path d="M-8.6,-0.3A8.6,8.6 0 0 1 8.6,-0.3Z" fill="#c4c4c4"/><circle r="8.3" fill="#3ee83e" fill-opacity="0.42"/><circle r="6.8" fill="#3ee83e" fill-opacity="0.12"/><circle r="4.6" fill="#2b5e2b"/></g>
<g transform="translate(198.42,471.04)"><circle r="8.6" fill="#e4e4e4"/><path d="M-8.6,-0.3A8.6,8.6 0 0 1 8.6,-0.3Z" fill="#c4c4c4"/><circle r="8.3" fill="#3ee83e" fill-opacity="0.42"/><circle r="6.8" fill="#3ee83e" fill-opacity="0.12"/><circle r="4.6" fill="#2b5e2b"/></g>
<g transform="translate(198.42,498.00)"><circle r="8.6" fill="#e4e4e4"/><path d="M-8.6,-0.3A8.6,8.6 0 0 1 8.6,-0.3Z" fill="#c4c4c4"/><circle r="8.3" fill="#3ee83e" fill-opacity="0.42"/><circle r="6.8" fill="#3ee83e" fill-opacity="0.12"/><circle r="4.6" fill="#2b5e2b"/></g>
<g transform="translate(225.38,201.44)"><circle r="8.6" fill="#e4e4e4"/><path d="M-8.6,-0.3A8.6,8.6 0 0 1 8.6,-0.3Z" fill="#c4c4c4"/><circle r="8.3" fill="#3ee83e" fill-opacity="0.42"/><circle r="6.8" fill="#3ee83e" fill-opacity="0.12"/><circle r="4.6" fill="#2b5e2b"/></g>
<g transform="translate(225.38,228.40)"><circle r="8.6" fill="#e4e4e4"/><path d="M-8.6,-0.3A8.6,8.6 0 0 1 8.6,-0.3Z" fill="#c4c4c4"/><circle r="8.3" fill="#3ee83e" fill-opacity="0.42"/><circle r="6.8" fill="#3ee83e" fill-opacity="0.12"/><circle r="4.6" fill="#2b5e2b"/></g>
<g transform="translate(225.38,255.36)"><circle r="8.6" fill="#e4e4e4"/><path d="M-8.6,-0.3A8.6,8.6 0 0 1 8.6,-0.3Z" fill="#c4c4c4"/><circle r="8.3" fill="#3ee83e" fill-opacity="0.42"/><circle r="6.8" fill="#3ee83e" fill-opacity="0.12"/><circle r="4.6" fill="#2b5e2b"/></g>
<g transform="translate(225.38,282.32)"><circle r="8.6" fill="#e4e4e4"/><path d="M-8.6,-0.3A8.6,8.6 0 0 1 8.6,-0.3Z" fill="#c4c4c4"/><circle r="8.3" fill="#3ee83e" fill-opacity="0.42"/><circle r="6.8" fill="#3ee83e" fill-opacity="0.12"/><circle r="4.6" fill="#2b5e2b"/></g>
<g transform="translate(225.38,309.28)"><circle r="8.6" fill="#e4e4e4"/><path d="M-8.6,-0.3A8.6,8.6 0 0 1 8.6,-0.3Z" fill="#c4c4c4"/><circle r="8.3" fill="#3ee83e" fill-opacity="0.42"/><circle r="6.8" fill="#3ee83e" fill-opacity="0.12"/><circle r="4.6" fill="#2b5e2b"/></g>
<g transform="translate(225.38,390.16)"><circle r="8.6" fill="#e4e4e4"/><path d="M-8.6,-0.3A8.6,8.6 0 0 1 8.6,-0.3Z" fill="#c4c4c4"/><circle r="8.3" fill="#3ee83e" fill-opacity="0.42"/><circle r="6.8" fill="#3ee83e" fill-opacity="0.12"/><circle r="4.6" fill="#2b5e2b"/></g>
<g transform="translate(225.38,417.12)"><circle r="8.6" fill="#e4e4e4"/><path d="M-8.6,-0.3A8.6,8.6 0 0 1 8.6,-0.3Z" fill="#c4c4c4"/><circle r="8.3" fill="#3ee83e" fill-opacity="0.42"/><circle r="6.8" fill="#3ee83e" fill-opacity="0.12"/><circle r="4.6" fill="#2b5e2b"/></g>
<g transform="translate(225.38,444.08)"><circle r="8.6" fill="#e4e4e4"/><path d="M-8.6,-0.3A8.6,8.6 0 0 1 8.6,-0.3Z" fill="#c4c4c4"/><circle r="8.3" fill="#3ee83e" fill-opacity="0.42"/><circle r="6.8" fill="#3ee83e" fill-opacity="0.12"/><circle r="4.6" fill="#2b5e2b"/></g>
<g transform="translate(225.38,471.04)"><circle r="8.6" fill="#e4e4e4"/><path d="M-8.6,-0.3A8.6,8.6 0 0 1 8.6,-0.3Z" fill="#c4c4c4"/><circle r="8.3" fill="#3ee83e" fill-opacity="0.42"/><circle r="6.8" fill="#3ee83e" fill-opacity="0.12"/><circle r="4.6" fill="#2b5e2b"/></g>
<g transform="translate(225.38,498.00)"><circle r="8.6" fill="#e4e4e4"/><path d="M-8.6,-0.3A8.6,8.6 0 0 1 8.6,-0.3Z" fill="#c4c4c4"/><circle r="8.3" fill="#3ee83e" fill-opacity="0.42"/><circle r="6.8" fill="#3ee83e" fill-opacity="0.12"/><circle r="4.6" fill="#2b5e2b"/></g>
<g transform="translate(252.34,201.44)"><circle r="8.6" fill="#e4e4e4"/><path d="M-8.6,-0.3A8.6,8.6 0 0 1 8.6,-0.3Z" fill="#c4c4c4"/><circle r="8.3" fill="#3ee83e" fill-opacity="0.42"/><circle r="6.8" fill="#3ee83e" fill-opacity="0.12"/><circle r="4.6" fill="#2b5e2b"/></g>
<g transform="translate(252.34,228.40)"><circle r="8.6" fill="#e4e4e4"/><path d="M-8.6,-0.3A8.6,8.6 0 0 1 8.6,-0.3Z" fill="#c4c4c4"/><circle r="8.3" fill="#3ee83e" fill-opacity="0.42"/><circle r="6.8" fill="#3ee83e" fill-opacity="0.12"/><circle r="4.6" fill="#2b5e2b"/></g>
<g transform="translate(252.34,255.36)"><circle r="8.6" fill="#e4e4e4"/><path d="M-8.6,-0.3A8.6,8.6 0 0 1 8.6,-0.3Z" fill="#c4c4c4"/><circle r="8.3" fill="#3ee83e" fill-opacity="0.42"/><circle r="6.8" fill="#3ee83e" fill-opacity="0.12"/><circle r="4.6" fill="#2b5e2b"/></g>
<g transform="translate(252.34,282.32)"><circle r="8.6" fill="#e4e4e4"/><path d="M-8.6,-0.3A8.6,8.6 0 0 1 8.6,-0.3Z" fill="#c4c4c4"/><circle r="8.3" fill="#3ee83e" fill-opacity="0.42"/><circle r="6.8" fill="#3ee83e" fill-opacity="0.12"/><circle r="4.6" fill="#2b5e2b"/></g>
<g transform="translate(252.34,309.28)"><circle r="8.6" fill="#e4e4e4"/><path d="M-8.6,-0.3A8.6,8.6 0 0 1 8.6,-0.3Z" fill="#c4c4c4"/><circle r="8.3" fill="#3ee83e" fill-opacity="0.42"/><circle r="6.8" fill="#3ee83e" fill-opacity="0.12"/><circle r="4.6" fill="#2b5e2b"/></g>
<g transform="translate(252.34,390.16)"><circle r="8.6" fill="#e4e4e4"/><path d="M-8.6,-0.3A8.6,8.6 0 0 1 8.6,-0.3Z" fill="#c4c4c4"/><circle r="8.3" fill="#3ee83e" fill-opacity="0.42"/><circle r="6.8" fill="#3ee83e" fill-opacity="0.12"/><circle r="4.6" fill="#2b5e2b"/></g>
<g transform="translate(252.34,417.12)"><circle r="8.6" fill="#e4e4e4"/><path d="M-8.6,-0.3A8.6,8.6 0 0 1 8.6,-0.3Z" fill="#c4c4c4"/><circle r="8.3" fill="#3ee83e" fill-opacity="0.42"/><circle r="6.8" fill="#3ee83e" fill-opacity="0.12"/><circle r="4.6" fill="#2b5e2b"/></g>
<g transform="translate(252.34,444.08)"><circle r="8.6" fill="#e4e4e4"/><path d="M-8.6,-0.3A8.6,8.6 0 0 1 8.6,-0.3Z" fill="#c4c4c4"/><circle r="8.3" fill="#3ee83e" fill-opacity="0.42"/><circle r="6.8" fill="#3ee83e" fill-opacity="0.12"/><circle r="4.6" fill="#2b5e2b"/></g>
<g transform="translate(252.34,471.04)"><circle r="8.6" fill="#e4e4e4"/><path d="M-8.6,-0.3A8.6,8.6 0 0 1 8.6,-0.3Z" fill="#c4c4c4"/><circle r="8.3" fill="#3ee83e" fill-opacity="0.42"/><circle r="6.8" fill="#3ee83e" fill-opacity="0.12"/><circle r="4.6" fill="#2b5e2b"/></g>
<g transform="translate(252.34,498.00)"><circle r="8.6" fill="#e4e4e4"/><path d="M-8.6,-0.3A8.6,8.6 0 0 1 8.6,-0.3Z" fill="#c4c4c4"/><circle r="8.3" fill="#3ee83e" fill-opacity="0.42"/><circle r="6.8" fill="#3ee83e" fill-opacity="0.12"/><circle r="4.6" fill="#2b5e2b"/></g>
<g transform="translate(279.30,201.44)"><circle r="8.6" fill="#e4e4e4"/><path d="M-8.6,-0.3A8.6,8.6 0 0 1 8.6,-0.3Z" fill="#c4c4c4"/><circle r="8.3" fill="#3ee83e" fill-opacity="0.42"/><circle r="6.8" fill="#3ee83e" fill-opacity="0.12"/><circle r="4.6" fill="#2b5e2b"/></g>
<g transform="translate(279.30,228.40)"><circle r="8.6" fill="#e4e4e4"/><path d="M-8.6,-0.3A8.6,8.6 0 0 1 8.6,-0.3Z" fill="#c4c4c4"/><circle r="8.3" fill="#3ee83e" fill-opacity="0.42"/><circle r="6.8" fill="#3ee83e" fill-opacity="0.12"/><circle r="4.6" fill="#2b5e2b"/></g>
<g transform="translate(279.30,255.36)"><circle r="8.6" fill="#e4e4e4"/><path d="M-8.6,-0.3A8.6,8.6 0 0 1 8.6,-0.3Z" fill="#c4c4c4"/><circle r="8.3" fill="#3ee83e" fill-opacity="0.42"/><circle r="6.8" fill="#3ee83e" fill-opacity="0.12"/><circle r="4.6" fill="#2b5e2b"/></g>
<g transform="translate(279.30,282.32)"><circle r="8.6" fill="#e4e4e4"/><path d="M-8.6,-0.3A8.6,8.6 0 0 1 8.6,-0.3Z" fill="#c4c4c4"/><circle r="8.3" fill="#3ee83e" fill-opacity="0.42"/><circle r="6.8" fill="#3ee83e" fill-opacity="0.12"/><circle r="4.6" fill="#2b5e2b"/></g>
<g transform="translate(279.30,309.28)"><circle r="8.6" fill="#e4e4e4"/><path d="M-8.6,-0.3A8.6,8.6 0 0 1 8.6,-0.3Z" fill="#c4c4c4"/><circle r="8.3" fill="#3ee83e" fill-opacity="0.42"/><circle r="6.8" fill="#3ee83e" fill-opacity="0.12"/><circle r="4.6" fill="#2b5e2b"/></g>
<g transform="translate(279.30,390.16)"><circle r="8.6" fill="#e4e4e4"/><path d="M-8.6,-0.3A8.6,8.6 0 0 1 8.6,-0.3Z" fill="#c4c4c4"/><circle r="8.3" fill="#3ee83e" fill-opacity="0.42"/><circle r="6.8" fill="#3ee83e" fill-opacity="0.12"/><circle r="4.6" fill="#2b5e2b"/></g>
<g transform="translate(279.30,417.12)"><circle r="8.6" fill="#e4e4e4"/><path d="M-8.6,-0.3A8.6,8.6 0 0 1 8.6,-0.3Z" fill="#c4c4c4"/><circle r="8.3" fill="#3ee83e" fill-opacity="0.42"/><circle r="6.8" fill="#3ee83e" fill-opacity="0.12"/><circle r="4.6" fill="#2b5e2b"/></g>
<g transform="translate(279.30,444.08)"><circle r="8.6" fill="#e4e4e4"/><path d="M-8.6,-0.3A8.6,8.6 0 0 1 8.6,-0.3Z" fill="#c4c4c4"/><circle r="8.3" fill="#3ee83e" fill-opacity="0.42"/><circle r="6.8" fill="#3ee83e" fill-opacity="0.12"/><circle r="4.6" fill="#2b5e2b"/></g>
<g transform="translate(279.30,471.04)"><circle r="8.6" fill="#e4e4e4"/><path d="M-8.6,-0.3A8.6,8.6 0 0 1 8.6,-0.3Z" fill="#c4c4c4"/><circle r="8.3" fill="#3ee83e" fill-opacity="0.42"/><circle r="6.8" fill="#3ee83e" fill-opacity="0.12"/><circle r="4.6" fill="#2b5e2b"/></g>
<g transform="translate(279.30,498.00)"><circle r="8.6" fill="#e4e4e4"/><path d="M-8.6,-0.3A8.6,8.6 0 0 1 8.6,-0.3Z" fill="#c4c4c4"/><circle r="8.3" fill="#3ee83e" fill-opacity="0.42"/><circle r="6.8" fill="#3ee83e" fill-opacity="0.12"/><circle r="4.6" fill="#2b5e2b"/></g>
<g transform="translate(306.26,201.44)"><circle r="8.6" fill="#e4e4e4"/><path d="M-8.6,-0.3A8.6,8.6 0 0 1 8.6,-0.3Z" fill="#c4c4c4"/><circle r="8.3" fill="#3ee83e" fill-opacity="0.42"/><circle r="6.8" fill="#3ee83e" fill-opacity="0.12"/><circle r="4.6" fill="#2b5e2b"/></g>
<g transform="translate(306.26,228.40)"><circle r="8.6" fill="#e4e4e4"/><path d="M-8.6,-0.3A8.6,8.6 0 0 1 8.6,-0.3Z" fill="#c4c4c4"/><circle r="8.3" fill="#3ee83e" fill-opacity="0.42"/><circle r="6.8" fill="#3ee83e" fill-opacity="0.12"/><circle r="4.6" fill="#2b5e2b"/></g>
<g transform="translate(306.26,255.36)"><circle r="8.6" fill="#e4e4e4"/><path d="M-8.6,-0.3A8.6,8.6 0 0 1 8.6,-0.3Z" fill="#c4c4c4"/><circle r="8.3" fill="#3ee83e" fill-opacity="0.42"/><circle r="6.8" fill="#3ee83e" fill-opacity="0.12"/><circle r="4.6" fill="#2b5e2b"/></g>
<g transform="translate(306.26,282.32)"><circle r="8.6" fill="#e4e4e4"/><path d="M-8.6,-0.3A8.6,8.6 0 0 1 8.6,-0.3Z" fill="#c4c4c4"/><circle r="8.3" fill="#3ee83e" fill-opacity="0.42"/><circle r="6.8" fill="#3ee83e" fill-opacity="0.12"/><circle r="4.6" fill="#2b5e2b"/></g>
<g transform="translate(306.26,309.28)"><circle r="8.6" fill="#e4e4e4"/><path d="M-8.6,-0.3A8.6,8.6 0 0 1 8.6,-0.3Z" fill="#c4c4c4"/><circle r="8.3" fill="#3ee83e" fill-opacity="0.42"/><circle r="6.8" fill="#3ee83e" fill-opacity="0.12"/><circle r="4.6" fill="#2b5e2b"/></g>
<g transform="translate(306.26,390.16)"><circle r="8.6" fill="#e4e4e4"/><path d="M-8.6,-0.3A8.6,8.6 0 0 1 8.6,-0.3Z" fill="#c4c4c4"/><circle r="8.3" fill="#3ee83e" fill-opacity="0.42"/><circle r="6.8" fill="#3ee83e" fill-opacity="0.12"/><circle r="4.6" fill="#2b5e2b"/></g>
<g transform="translate(306.26,417.12)"><circle r="8.6" fill="#e4e4e4"/><path d="M-8.6,-0.3A8.6,8.6 0 0 1 8.6,-0.3Z" fill="#c4c4c4"/><circle r="8.3" fill="#3ee83e" fill-opacity="0.42"/><circle r="6.8" fill="#3ee83e" fill-opacity="0.12"/><circle r="4.6" fill="#2b5e2b"/></g>
<g transform="translate(306.26,444.08)"><circle r="8.6" fill="#e4e4e4"/><path d="M-8.6,-0.3A8.6,8.6 0 0 1 8.6,-0.3Z" fill="#c4c4c4"/><circle r="8.3" fill="#3ee83e" fill-opacity="0.42"/><circle r="6.8" fill="#3ee83e" fill-opacity="0.12"/><circle r="4.6" fill="#2b5e2b"/></g>
<g transform="translate(306.26,471.04)"><circle r="8.6" fill="#e4e4e4"/><path d="M-8.6,-0.3A8.6,8.6 0 0 1 8.6,-0.3Z" fill="#c4c4c4"/><circle r="8.3" fill="#3ee83e" fill-opacity="0.42"/><circle r="6.8" fill="#3ee83e" fill-opacity="0.12"/><circle r="4.6" fill="#2b5e2b"/></g>
<g transform="translate(306.26,498.00)"><circle r="8.6" fill="#e4e4e4"/><path d="M-8.6,-0.3A8.6,8.6 0 0 1 8.6,-0.3Z" fill="#c4c4c4"/><circle r="8.3" fill="#3ee83e" fill-opacity="0.42"/><circle r="6.8" fill="#3ee83e" fill-opacity="0.12"/><circle r="4.6" fill="#2b5e2b"/></g>
<g transform="translate(333.22,201.44)"><circle r="8.6" fill="#e4e4e4"/><path d="M-8.6,-0.3A8.6,8.6 0 0 1 8.6,-0.3Z" fill="#c4c4c4"/><circle r="8.3" fill="#3ee83e" fill-opacity="0.42"/><circle r="6.8" fill="#3ee83e" fill-opacity="0.12"/><circle r="4.6" fill="#2b5e2b"/></g>
<g transform="translate(333.22,228.40)"><circle r="8.6" fill="#e4e4e4"/><path d="M-8.6,-0.3A8.6,8.6 0 0 1 8.6,-0.3Z" fill="#c4c4c4"/><circle r="8.3" fill="#3ee83e" fill-opacity="0.42"/><circle r="6.8" fill="#3ee83e" fill-opacity="0.12"/><circle r="4.6" fill="#2b5e2b"/></g>
<g transform="translate(333.22,255.36)"><circle r="8.6" fill="#e4e4e4"/><path d="M-8.6,-0.3A8.6,8.6 0 0 1 8.6,-0.3Z" fill="#c4c4c4"/><circle r="8.3" fill="#3ee83e" fill-opacity="0.42"/><circle r="6.8" fill="#3ee83e" fill-opacity="0.12"/><circle r="4.6" fill="#2b5e2b"/></g>
<g transform="translate(333.22,282.32)"><circle r="8.6" fill="#e4e4e4"/><path d="M-8.6,-0.3A8.6,8.6 0 0 1 8.6,-0.3Z" fill="#c4c4c4"/><circle r="8.3" fill="#3ee83e" fill-opacity="0.42"/><circle r="6.8" fill="#3ee83e" fill-opacity="0.12"/><circle r="4.6" fill="#2b5e2b"/></g>
<g transform="translate(333.22,309.28)"><circle r="8.6" fill="#e4e4e4"/><path d="M-8.6,-0.3A8.6,8.6 0 0 1 8.6,-0.3Z" fill="#c4c4c4"/><circle r="8.3" fill="#3ee83e" fill-opacity="0.42"/><circle r="6.8" fill="#3ee83e" fill-opacity="0.12"/><circle r="4.6" fill="#2b5e2b"/></g>
<g transform="translate(333.22,390.16)"><circle r="8.6" fill="#e4e4e4"/><path d="M-8.6,-0.3A8.6,8.6 0 0 1 8.6,-0.3Z" fill="#c4c4c4"/><circle r="8.3" fill="#3ee83e" fill-opacity="0.42"/><circle r="6.8" fill="#3ee83e" fill-opacity="0.12"/><circle r="4.6" fill="#2b5e2b"/></g>
<g transform="translate(333.22,417.12)"><circle r="8.6" fill="#e4e4e4"/><path d="M-8.6,-0.3A8.6,8.6 0 0 1 8.6,-0.3Z" fill="#c4c4c4"/><circle r="8.3" fill="#3ee83e" fill-opacity="0.42"/><circle r="6.8" fill="#3ee83e" fill-opacity="0.12"/><circle r="4.6" fill="#2b5e2b"/></g>
<g transform="translate(333.22,444.08)"><circle r="8.6" fill="#e4e4e4"/><path d="M-8.6,-0.3A8.6,8.6 0 0 1 8.6,-0.3Z" fill="#c4c4c4"/><circle r="8.3" fill="#3ee83e" fill-opacity="0.42"/><circle r="6.8" fill="#3ee83e" fill-opacity="0.12"/><circle r="4.6" fill="#2b5e2b"/></g>
<g transform="translate(333.22,471.04)"><circle r="8.6" fill="#e4e4e4"/><path d="M-8.6,-0.3A8.6,8.6 0 0 1 8.6,-0.3Z" fill="#c4c4c4"/><circle r="8.3" fill="#3ee83e" fill-opacity="0.42"/><circle r="6.8" fill="#3ee83e" fill-opacity="0.12"/><circle r="4.6" fill="#2b5e2b"/></g>
<g transform="translate(333.22,498.00)"><circle r="8.6" fill="#e4e4e4"/><path d="M-8.6,-0.3A8.6,8.6 0 0 1 8.6,-0.3Z" fill="#c4c4c4"/><circle r="8.3" fill="#3ee83e" fill-opacity="0.42"/><circle r="6.8" fill="#3ee83e" fill-opacity="0.12"/><circle r="4.6" fill="#2b5e2b"/></g>
<g transform="translate(360.18,201.44)"><circle r="8.6" fill="#e4e4e4"/><path d="M-8.6,-0.3A8.6,8.6 0 0 1 8.6,-0.3Z" fill="#c4c4c4"/><circle r="8.3" fill="#3ee83e" fill-opacity="0.42"/><circle r="6.8" fill="#3ee83e" fill-opacity="0.12"/><circle r="4.6" fill="#2b5e2b"/></g>
<g transform="translate(360.18,228.40)"><circle r="8.6" fill="#e4e4e4"/><path d="M-8.6,-0.3A8.6,8.6 0 0 1 8.6,-0.3Z" fill="#c4c4c4"/><circle r="8.3" fill="#3ee83e" fill-opacity="0.42"/><circle r="6.8" fill="#3ee83e" fill-opacity="0.12"/><circle r="4.6" fill="#2b5e2b"/></g>
<g transform="translate(360.18,255.36)"><circle r="8.6" fill="#e4e4e4"/><path d="M-8.6,-0.3A8.6,8.6 0 0 1 8.6,-0.3Z" fill="#c4c4c4"/><circle r="8.3" fill="#3ee83e" fill-opacity="0.42"/><circle r="6.8" fill="#3ee83e" fill-opacity="0.12"/><circle r="4.6" fill="#2b5e2b"/></g>
<g transform="translate(360.18,282.32)"><circle r="8.6" fill="#e4e4e4"/><path d="M-8.6,-0.3A8.6,8.6 0 0 1 8.6,-0.3Z" fill="#c4c4c4"/><circle r="8.3" fill="#3ee83e" fill-opacity="0.42"/><circle r="6.8" fill="#3ee83e" fill-opacity="0.12"/><circle r="4.6" fill="#2b5e2b"/></g>
<g transform="translate(360.18,309.28)"><circle r="8.6" fill="#e4e4e4"/><path d="M-8.6,-0.3A8.6,8.6 0 0 1 8.6,-0.3Z" fill="#c4c4c4"/><circle r="8.3" fill="#3ee83e" fill-opacity="0.42"/><circle r="6.8" fill="#3ee83e" fill-opacity="0.12"/><circle r="4.6" fill="#2b5e2b"/></g>
<g transform="translate(360.18,390.16)"><circle r="8.6" fill="#e4e4e4"/><path d="M-8.6,-0.3A8.6,8.6 0 0 1 8.6,-0.3Z" fill="#c4c4c4"/><circle r="8.3" fill="#3ee83e" fill-opacity="0.42"/><circle r="6.8" fill="#3ee83e" fill-opacity="0.12"/><circle r="4.6" fill="#2b5e2b"/></g>
<g transform="translate(360.18,417.12)"><circle r="8.6" fill="#e4e4e4"/><path d="M-8.6,-0.3A8.6,8.6 0 0 1 8.6,-0.3Z" fill="#c4c4c4"/><circle r="8.3" fill="#3ee83e" fill-opacity="0.42"/><circle r="6.8" fill="#3ee83e" fill-opacity="0.12"/><circle r="4.6" fill="#2b5e2b"/></g>
<g transform="translate(360.18,444.08)"><circle r="8.6" fill="#e4e4e4"/><path d="M-8.6,-0.3A8.6,8.6 0 0 1 8.6,-0.3Z" fill="#c4c4c4"/><circle r="8.3" fill="#3ee83e" fill-opacity="0.42"/><circle r="6.8" fill="#3ee83e" fill-opacity="0.12"/><circle r="4.6" fill="#2b5e2b"/></g>
<g transform="translate(360.18,471.04)"><circle r="8.6" fill="#e4e4e4"/><path d="M-8.6,-0.3A8.6,8.6 0 0 1 8.6,-0.3Z" fill="#c4c4c4"/><circle r="8.3" fill="#3ee83e" fill-opacity="0.42"/><circle r="6.8" fill="#3ee83e" fill-opacity="0.12"/><circle r="4.6" fill="#2b5e2b"/></g>
<g transform="translate(360.18,498.00)"><circle r="8.6" fill="#e4e4e4"/><path d="M-8.6,-0.3A8.6,8.6 0 0 1 8.6,-0.3Z" fill="#c4c4c4"/><circle r="8.3" fill="#3ee83e" fill-opacity="0.42"/><circle r="6.8" fill="#3ee83e" fill-opacity="0.12"/><circle r="4.6" fill="#2b5e2b"/></g>
<g transform="translate(387.14,201.44)"><circle r="8.6" fill="#e4e4e4"/><path d="M-8.6,-0.3A8.6,8.6 0 0 1 8.6,-0.3Z" fill="#c4c4c4"/><circle r="8.3" fill="#3ee83e" fill-opacity="0.42"/><circle r="6.8" fill="#3ee83e" fill-opacity="0.12"/><circle r="4.6" fill="#2b5e2b"/></g>
<g transform="translate(387.14,228.40)"><circle r="8.6" fill="#e4e4e4"/><path d="M-8.6,-0.3A8.6,8.6 0 0 1 8.6,-0.3Z" fill="#c4c4c4"/><circle r="8.3" fill="#3ee83e" fill-opacity="0.42"/><circle r="6.8" fill="#3ee83e" fill-opacity="0.12"/><circle r="4.6" fill="#2b5e2b"/></g>
<g transform="translate(387.14,255.36)"><circle r="8.6" fill="#e4e4e4"/><path d="M-8.6,-0.3A8.6,8.6 0 0 1 8.6,-0.3Z" fill="#c4c4c4"/><circle r="8.3" fill="#3ee83e" fill-opacity="0.42"/><circle r="6.8" fill="#3ee83e" fill-opacity="0.12"/><circle r="4.6" fill="#2b5e2b"/></g>
<g transform="translate(387.14,282.32)"><circle r="8.6" fill="#e4e4e4"/><path d="M-8.6,-0.3A8.6,8.6 0 0 1 8.6,-0.3Z" fill="#c4c4c4"/><circle r="8.3" fill="#3ee83e" fill-opacity="0.42"/><circle r="6.8" fill="#3ee83e" fill-opacity="0.12"/><circle r="4.6" fill="#2b5e2b"/></g>
<g transform="translate(387.14,309.28)"><circle r="8.6" fill="#e4e4e4"/><path d="M-8.6,-0.3A8.6,8.6 0 0 1 8.6,-0.3Z" fill="#c4c4c4"/><circle r="8.3" fill="#3ee83e" fill-opacity="0.42"/><circle r="6.8" fill="#3ee83e" fill-opacity="0.12"/><circle r="4.6" fill="#2b5e2b"/></g>
<g transform="translate(387.14,390.16)"><circle r="8.6" fill="#e4e4e4"/><path d="M-8.6,-0.3A8.6,8.6 0 0 1 8.6,-0.3Z" fill="#c4c4c4"/><circle r="8.3" fill="#3ee83e" fill-opacity="0.42"/><circle r="6.8" fill="#3ee83e" fill-opacity="0.12"/><circle r="4.6" fill="#2b5e2b"/></g>
<g transform="translate(387.14,417.12)"><circle r="8.6" fill="#e4e4e4"/><path d="M-8.6,-0.3A8.6,8.6 0 0 1 8.6,-0.3Z" fill="#c4c4c4"/><circle r="8.3" fill="#3ee83e" fill-opacity="0.42"/><circle r="6.8" fill="#3ee83e" fill-opacity="0.12"/><circle r="4.6" fill="#2b5e2b"/></g>
<g transform="translate(387.14,444.08)"><circle r="8.6" fill="#e4e4e4"/><path d="M-8.6,-0.3A8.6,8.6 0 0 1 8.6,-0.3Z" fill="#c4c4c4"/><circle r="8.3" fill="#3ee83e" fill-opacity="0.42"/><circle r="6.8" fill="#3ee83e" fill-opacity="0.12"/><circle r="4.6" fill="#2b5e2b"/></g>
<g transform="translate(387.14,471.04)"><circle r="8.6" fill="#e4e4e4"/><path d="M-8.6,-0.3A8.6,8.6 0 0 1 8.6,-0.3Z" fill="#c4c4c4"/><circle r="8.3" fill="#3ee83e" fill-opacity="0.42"/><circle r="6.8" fill="#3ee83e" fill-opacity="0.12"/><circle r="4.6" fill="#2b5e2b"/></g>
<g transform="translate(387.14,498.00)"><circle r="8.6" fill="#e4e4e4"/><path d="M-8.6,-0.3A8.6,8.6 0 0 1 8.6,-0.3Z" fill="#c4c4c4"/><circle r="8.3" fill="#3ee83e" fill-opacity="0.42"/><circle r="6.8" fill="#3ee83e" fill-opacity="0.12"/><circle r="4.6" fill="#2b5e2b"/></g>
<g transform="translate(414.10,201.44)"><circle r="8.6" fill="#e4e4e4"/><path d="M-8.6,-0.3A8.6,8.6 0 0 1 8.6,-0.3Z" fill="#c4c4c4"/><circle r="8.3" fill="#3ee83e" fill-opacity="0.42"/><circle r="6.8" fill="#3ee83e" fill-opacity="0.12"/><circle r="4.6" fill="#2b5e2b"/></g>
<g transform="translate(414.10,228.40)"><circle r="8.6" fill="#e4e4e4"/><path d="M-8.6,-0.3A8.6,8.6 0 0 1 8.6,-0.3Z" fill="#c4c4c4"/><circle r="8.3" fill="#3ee83e" fill-opacity="0.42"/><circle r="6.8" fill="#3ee83e" fill-opacity="0.12"/><circle r="4.6" fill="#2b5e2b"/></g>
<g transform="translate(414.10,255.36)"><circle r="8.6" fill="#e4e4e4"/><path d="M-8.6,-0.3A8.6,8.6 0 0 1 8.6,-0.3Z" fill="#c4c4c4"/><circle r="8.3" fill="#3ee83e" fill-opacity="0.42"/><circle r="6.8" fill="#3ee83e" fill-opacity="0.12"/><circle r="4.6" fill="#2b5e2b"/></g>
<g transform="translate(414.10,282.32)"><circle r="8.6" fill="#e4e4e4"/><path d="M-8.6,-0.3A8.6,8.6 0 0 1 8.6,-0.3Z" fill="#c4c4c4"/><circle r="8.3" fill="#3ee83e" fill-opacity="0.42"/><circle r="6.8" fill="#3ee83e" fill-opacity="0.12"/><circle r="4.6" fill="#2b5e2b"/></g>
<g transform="translate(414.10,309.28)"><circle r="8.6" fill="#e4e4e4"/><path d="M-8.6,-0.3A8.6,8.6 0 0 1 8.6,-0.3Z" fill="#c4c4c4"/><circle r="8.3" fill="#3ee83e" fill-opacity="0.42"/><circle r="6.8" fill="#3ee83e" fill-opacity="0.12"/><circle r="4.6" fill="#2b5e2b"/></g>
<g transform="translate(414.10,390.16)"><circle r="8.6" fill="#e4e4e4"/><path d="M-8.6,-0.3A8.6,8.6 0 0 1 8.6,-0.3Z" fill="#c4c4c4"/><circle r="8.3" fill="#3ee83e" fill-opacity="0.42"/><circle r="6.8" fill="#3ee83e" fill-opacity="0.12"/><circle r="4.6" fill="#2b5e2b"/></g>
<g transform="translate(414.10,417.12)"><circle r="8.6" fill="#e4e4e4"/><path d="M-8.6,-0.3A8.6,8.6 0 0 1 8.6,-0.3Z" fill="#c4c4c4"/><circle r="8.3" fill="#3ee83e" fill-opacity="0.42"/><circle r="6.8" fill="#3ee83e" fill-opacity="0.12"/><circle r="4.6" fill="#2b5e2b"/></g>
<g transform="translate(414.10,444.08)"><circle r="8.6" fill="#e4e4e4"/><path d="M-8.6,-0.3A8.6,8.6 0 0 1 8.6,-0.3Z" fill="#c4c4c4"/><circle r="8.3" fill="#3ee83e" fill-opacity="0.42"/><circle r="6.8" fill="#3ee83e" fill-opacity="0.12"/><circle r="4.6" fill="#2b5e2b"/></g>
<g transform="translate(414.10,471.04)"><circle r="8.6" fill="#e4e4e4"/><path d="M-8.6,-0.3A8.6,8.6 0 0 1 8.6,-0.3Z" fill="#c4c4c4"/><circle r="8.3" fill="#3ee83e" fill-opacity="0.42"/><circle r="6.8" fill="#3ee83e" fill-opacity="0.12"/><circle r="4.6" fill="#2b5e2b"/></g>
<g transform="translate(414.10,498.00)"><circle r="8.6" fill="#e4e4e4"/><path d="M-8.6,-0.3A8.6,8.6 0 0 1 8.6,-0.3Z" fill="#c4c4c4"/><circle r="8.3" fill="#3ee83e" fill-opacity="0.42"/><circle r="6.8" fill="#3ee83e" fill-opacity="0.12"/><circle r="4.6" fill="#2b5e2b"/></g>
<g transform="translate(441.06,201.44)"><circle r="8.6" fill="#e4e4e4"/><path d="M-8.6,-0.3A8.6,8.6 0 0 1 8.6,-0.3Z" fill="#c4c4c4"/><circle r="8.3" fill="#3ee83e" fill-opacity="0.42"/><circle r="6.8" fill="#3ee83e" fill-opacity="0.12"/><circle r="4.6" fill="#2b5e2b"/></g>
<g transform="translate(441.06,228.40)"><circle r="8.6" fill="#e4e4e4"/><path d="M-8.6,-0.3A8.6,8.6 0 0 1 8.6,-0.3Z" fill="#c4c4c4"/><circle r="8.3" fill="#3ee83e" fill-opacity="0.42"/><circle r="6.8" fill="#3ee83e" fill-opacity="0.12"/><circle r="4.6" fill="#2b5e2b"/></g>
<g transform="translate(441.06,255.36)"><circle r="8.6" fill="#e4e4e4"/><path d="M-8.6,-0.3A8.6,8.6 0 0 1 8.6,-0.3Z" fill="#c4c4c4"/><circle r="8.3" fill="#3ee83e" fill-opacity="0.42"/><circle r="6.8" fill="#3ee83e" fill-opacity="0.12"/><circle r="4.6" fill="#2b5e2b"/></g>
<g transform="translate(441.06,282.32)"><circle r="8.6" fill="#e4e4e4"/><path d="M-8.6,-0.3A8.6,8.6 0 0 1 8.6,-0.3Z" fill="#c4c4c4"/><circle r="8.3" fill="#3ee83e" fill-opacity="0.42"/><circle r="6.8" fill="#3ee83e" fill-opacity="0.12"/><circle r="4.6" fill="#2b5e2b"/></g>
<g transform="translate(441.06,309.28)"><circle r="8.6" fill="#e4e4e4"/><path d="M-8.6,-0.3A8.6,8.6 0 0 1 8.6,-0.3Z" fill="#c4c4c4"/><circle r="8.3" fill="#3ee83e" fill-opacity="0.42"/><circle r="6.8" fill="#3ee83e" fill-opacity="0.12"/><circle r="4.6" fill="#2b5e2b"/></g>
<g transform="translate(441.06,390.16)"><circle r="8.6" fill="#e4e4e4"/><path d="M-8.6,-0.3A8.6,8.6 0 0 1 8.6,-0.3Z" fill="#c4c4c4"/><circle r="8.3" fill="#3ee83e" fill-opacity="0.42"/><circle r="6.8" fill="#3ee83e" fill-opacity="0.12"/><circle r="4.6" fill="#2b5e2b"/></g>
<g transform="translate(441.06,417.12)"><circle r="8.6" fill="#e4e4e4"/><path d="M-8.6,-0.3A8.6,8.6 0 0 1 8.6,-0.3Z" fill="#c4c4c4"/><circle r="8.3" fill="#3ee83e" fill-opacity="0.42"/><circle r="6.8" fill="#3ee83e" fill-opacity="0.12"/><circle r="4.6" fill="#2b5e2b"/></g>
<g transform="translate(441.06,444.08)"><circle r="8.6" fill="#e4e4e4"/><path d="M-8.6,-0.3A8.6,8.6 0 0 1 8.6,-0.3Z" fill="#c4c4c4"/><circle r="8.3" fill="#3ee83e" fill-opacity="0.42"/><circle r="6.8" fill="#3ee83e" fill-opacity="0.12"/><circle r="4.6" fill="#2b5e2b"/></g>
<g transform="translate(441.06,471.04)"><circle r="8.6" fill="#e4e4e4"/><path d="M-8.6,-0.3A8.6,8.6 0 0 1 8.6,-0.3Z" fill="#c4c4c4"/><circle r="8.3" fill="#3ee83e" fill-opacity="0.42"/><circle r="6.8" fill="#3ee83e" fill-opacity="0.12"/><circle r="4.6" fill="#2b5e2b"/></g>
<g transform="translate(441.06,498.00)"><circle r="8.6" fill="#e4e4e4"/><path d="M-8.6,-0.3A8.6,8.6 0 0 1 8.6,-0.3Z" fill="#c4c4c4"/><circle r="8.3" fill="#3ee83e" fill-opacity="0.42"/><circle r="6.8" fill="#3ee83e" fill-opacity="0.12"/><circle r="4.6" fill="#2b5e2b"/></g>
<g transform="translate(468.02,201.44)"><circle r="8.6" fill="#e4e4e4"/><path d="M-8.6,-0.3A8.6,8.6 0 0 1 8.6,-0.3Z" fill="#c4c4c4"/><circle r="8.3" fill="#3ee83e" fill-opacity="0.42"/><circle r="6.8" fill="#3ee83e" fill-opacity="0.12"/><circle r="4.6" fill="#2b5e2b"/></g>
<g transform="translate(468.02,228.40)"><circle r="8.6" fill="#e4e4e4"/><path d="M-8.6,-0.3A8.6,8.6 0 0 1 8.6,-0.3Z" fill="#c4c4c4"/><circle r="8.3" fill="#3ee83e" fill-opacity="0.42"/><circle r="6.8" fill="#3ee83e" fill-opacity="0.12"/><circle r="4.6" fill="#2b5e2b"/></g>
<g transform="translate(468.02,255.36)"><circle r="8.6" fill="#e4e4e4"/><path d="M-8.6,-0.3A8.6,8.6 0 0 1 8.6,-0.3Z" fill="#c4c4c4"/><circle r="8.3" fill="#3ee83e" fill-opacity="0.42"/><circle r="6.8" fill="#3ee83e" fill-opacity="0.12"/><circle r="4.6" fill="#2b5e2b"/></g>
<g transform="translate(468.02,282.32)"><circle r="8.6" fill="#e4e4e4"/><path d="M-8.6,-0.3A8.6,8.6 0 0 1 8.6,-0.3Z" fill="#c4c4c4"/><circle r="8.3" fill="#3ee83e" fill-opacity="0.42"/><circle r="6.8" fill="#3ee83e" fill-opacity="0.12"/><circle r="4.6" fill="#2b5e2b"/></g>
<g transform="translate(468.02,309.28)"><circle r="8.6" fill="#e4e4e4"/><path d="M-8.6,-0.3A8.6,8.6 0 0 1 8.6,-0.3Z" fill="#c4c4c4"/><circle r="8.3" fill="#3ee83e" fill-opacity="0.42"/><circle r="6.8" fill="#3ee83e" fill-opacity="0.12"/><circle r="4.6" fill="#2b5e2b"/></g>
<g transform="translate(468.02,390.16)"><circle r="8.6" fill="#e4e4e4"/><path d="M-8.6,-0.3A8.6,8.6 0 0 1 8.6,-0.3Z" fill="#c4c4c4"/><circle r="8.3" fill="#3ee83e" fill-opacity="0.42"/><circle r="6.8" fill="#3ee83e" fill-opacity="0.12"/><circle r="4.6" fill="#2b5e2b"/></g>
<g transform="translate(468.02,417.12)"><circle r="8.6" fill="#e4e4e4"/><path d="M-8.6,-0.3A8.6,8.6 0 0 1 8.6,-0.3Z" fill="#c4c4c4"/><circle r="8.3" fill="#3ee83e" fill-opacity="0.42"/><circle r="6.8" fill="#3ee83e" fill-opacity="0.12"/><circle r="4.6" fill="#2b5e2b"/></g>
<g transform="translate(468.02,444.08)"><circle r="8.6" fill="#e4e4e4"/><path d="M-8.6,-0.3A8.6,8.6 0 0 1 8.6,-0.3Z" fill="#c4c4c4"/><circle r="8.3" fill="#3ee83e" fill-opacity="0.42"/><circle r="6.8" fill="#3ee83e" fill-opacity="0.12"/><circle r="4.6" fill="#2b5e2b"/></g>
<g transform="translate(468.02,471.04)"><circle r="8.6" fill="#e4e4e4"/><path d="M-8.6,-0.3A8.6,8.6 0 0 1 8.6,-0.3Z" fill="#c4c4c4"/><circle r="8.3" fill="#3ee83e" fill-opacity="0.42"/><circle r="6.8" fill="#3ee83e" fill-opacity="0.12"/><circle r="4.6" fill="#2b5e2b"/></g>
<g transform="translate(468.02,498.00)"><circle r="8.6" fill="#e4e4e4"/><path d="M-8.6,-0.3A8.6,8.6 0 0 1 8.6,-0.3Z" fill="#c4c4c4"/><circle r="8.3" fill="#3ee83e" fill-opacity="0.42"/><circle r="6.8" fill="#3ee83e" fill-opacity="0.12"/><circle r="4.6" fill="#2b5e2b"/></g>
<g transform="translate(494.98,201.44)"><circle r="8.6" fill="#e4e4e4"/><path d="M-8.6,-0.3A8.6,8.6 0 0 1 8.6,-0.3Z" fill="#c4c4c4"/><circle r="8.3" fill="#3ee83e" fill-opacity="0.42"/><circle r="6.8" fill="#3ee83e" fill-opacity="0.12"/><circle r="4.6" fill="#2b5e2b"/></g>
<g transform="translate(494.98,228.40)"><circle r="8.6" fill="#e4e4e4"/><path d="M-8.6,-0.3A8.6,8.6 0 0 1 8.6,-0.3Z" fill="#c4c4c4"/><circle r="8.3" fill="#3ee83e" fill-opacity="0.42"/><circle r="6.8" fill="#3ee83e" fill-opacity="0.12"/><circle r="4.6" fill="#2b5e2b"/></g>
<g transform="translate(494.98,255.36)"><circle r="8.6" fill="#e4e4e4"/><path d="M-8.6,-0.3A8.6,8.6 0 0 1 8.6,-0.3Z" fill="#c4c4c4"/><circle r="8.3" fill="#3ee83e" fill-opacity="0.42"/><circle r="6.8" fill="#3ee83e" fill-opacity="0.12"/><circle r="4.6" fill="#2b5e2b"/></g>
<g transform="translate(494.98,282.32)"><circle r="8.6" fill="#e4e4e4"/><path d="M-8.6,-0.3A8.6,8.6 0 0 1 8.6,-0.3Z" fill="#c4c4c4"/><circle r="8.3" fill="#3ee83e" fill-opacity="0.42"/><circle r="6.8" fill="#3ee83e" fill-opacity="0.12"/><circle r="4.6" fill="#2b5e2b"/></g>
<g transform="translate(494.98,309.28)"><circle r="8.6" fill="#e4e4e4"/><path d="M-8.6,-0.3A8.6,8.6 0 0 1 8.6,-0.3Z" fill="#c4c4c4"/><circle r="8.3" fill="#3ee83e" fill-opacity="0.42"/><circle r="6.8" fill="#3ee83e" fill-opacity="0.12"/><circle r="4.6" fill="#2b5e2b"/></g>
<g transform="translate(494.98,390.16)"><circle r="8.6" fill="#e4e4e4"/><path d="M-8.6,-0.3A8.6,8.6 0 0 1 8.6,-0.3Z" fill="#c4c4c4"/><circle r="8.3" fill="#3ee83e" fill-opacity="0.42"/><circle r="6.8" fill="#3ee83e" fill-opacity="0.12"/><circle r="4.6" fill="#2b5e2b"/></g>
<g transform="translate(494.98,417.12)"><circle r="8.6" fill="#e4e4e4"/><path d="M-8.6,-0.3A8.6,8.6 0 0 1 8.6,-0.3Z" fill="#c4c4c4"/><circle r="8.3" fill="#3ee83e" fill-opacity="0.42"/><circle r="6.8" fill="#3ee83e" fill-opacity="0.12"/><circle r="4.6" fill="#2b5e2b"/></g>
<g transform="translate(494.98,444.08)"><circle r="8.6" fill="#e4e4e4"/><path d="M-8.6,-0.3A8.6,8.6 0 0 1 8.6,-0.3Z" fill="#c4c4c4"/><circle r="8.3" fill="#3ee83e" fill-opacity="0.42"/><circle r="6.8" fill="#3ee83e" fill-opacity="0.12"/><circle r="4.6" fill="#2b5e2b"/></g>
<g transform="translate(494.98,471.04)"><circle r="8.6" fill="#e4e4e4"/><path d="M-8.6,-0.3A8.6,8.6 0 0 1 8.6,-0.3Z" fill="#c4c4c4"/><circle r="8.3" fill="#3ee83e" fill-opacity="0.42"/><circle r="6.8" fill="#3ee83e" fill-opacity="0.12"/><circle r="4.6" fill="#2b5e2b"/></g>
<g transform="translate(494.98,498.00)"><circle r="8.6" fill="#e4e4e4"/><path d="M-8.6,-0.3A8.6,8.6 0 0 1 8.6,-0.3Z" fill="#c4c4c4"/><circle r="8.3" fill="#3ee83e" fill-opacity="0.42"/><circle r="6.8" fill="#3ee83e" fill-opacity="0.12"/><circle r="4.6" fill="#2b5e2b"/></g>
<g transform="translate(521.94,201.44)"><circle r="8.6" fill="#e4e4e4"/><path d="M-8.6,-0.3A8.6,8.6 0 0 1 8.6,-0.3Z" fill="#c4c4c4"/><circle r="8.3" fill="#3ee83e" fill-opacity="0.42"/><circle r="6.8" fill="#3ee83e" fill-opacity="0.12"/><circle r="4.6" fill="#2b5e2b"/></g>
<g transform="translate(521.94,228.40)"><circle r="8.6" fill="#e4e4e4"/><path d="M-8.6,-0.3A8.6,8.6 0 0 1 8.6,-0.3Z" fill="#c4c4c4"/><circle r="8.3" fill="#3ee83e" fill-opacity="0.42"/><circle r="6.8" fill="#3ee83e" fill-opacity="0.12"/><circle r="4.6" fill="#2b5e2b"/></g>
<g transform="translate(521.94,255.36)"><circle r="8.6" fill="#e4e4e4"/><path d="M-8.6,-0.3A8.6,8.6 0 0 1 8.6,-0.3Z" fill="#c4c4c4"/><circle r="8.3" fill="#3ee83e" fill-opacity="0.42"/><circle r="6.8" fill="#3ee83e" fill-opacity="0.12"/><circle r="4.6" fill="#2b5e2b"/></g>
<g transform="translate(521.94,282.32)"><circle r="8.6" fill="#e4e4e4"/><path d="M-8.6,-0.3A8.6,8.6 0 0 1 8.6,-0.3Z" fill="#c4c4c4"/><circle r="8.3" fill="#3ee83e" fill-opacity="0.42"/><circle r="6.8" fill="#3ee83e" fill-opacity="0.12"/><circle r="4.6" fill="#2b5e2b"/></g>
<g transform="translate(521.94,309.28)"><circle r="8.6" fill="#e4e4e4"/><path d="M-8.6,-0.3A8.6,8.6 0 0 1 8.6,-0.3Z" fill="#c4c4c4"/><circle r="8.3" fill="#3ee83e" fill-opacity="0.42"/><circle r="6.8" fill="#3ee83e" fill-opacity="0.12"/><circle r="4.6" fill="#2b5e2b"/></g>
<g transform="translate(521.94,390.16)"><circle r="8.6" fill="#e4e4e4"/><path d="M-8.6,-0.3A8.6,8.6 0 0 1 8.6,-0.3Z" fill="#c4c4c4"/><circle r="8.3" fill="#3ee83e" fill-opacity="0.42"/><circle r="6.8" fill="#3ee83e" fill-opacity="0.12"/><circle r="4.6" fill="#2b5e2b"/></g>
<g transform="translate(521.94,417.12)"><circle r="8.6" fill="#e4e4e4"/><path d="M-8.6,-0.3A8.6,8.6 0 0 1 8.6,-0.3Z" fill="#c4c4c4"/><circle r="8.3" fill="#3ee83e" fill-opacity="0.42"/><circle r="6.8" fill="#3ee83e" fill-opacity="0.12"/><circle r="4.6" fill="#2b5e2b"/></g>
<g transform="translate(521.94,444.08)"><circle r="8.6" fill="#e4e4e4"/><path d="M-8.6,-0.3A8.6,8.6 0 0 1 8.6,-0.3Z" fill="#c4c4c4"/><circle r="8.3" fill="#3ee83e" fill-opacity="0.42"/><circle r="6.8" fill="#3ee83e" fill-opacity="0.12"/><circle r="4.6" fill="#2b5e2b"/></g>
<g transform="translate(521.94,471.04)"><circle r="8.6" fill="#e4e4e4"/><path d="M-8.6,-0.3A8.6,8.6 0 0 1 8.6,-0.3Z" fill="#c4c4c4"/><circle r="8.3" fill="#3ee83e" fill-opacity="0.42"/><circle r="6.8" fill="#3ee83e" fill-opacity="0.12"/><circle r="4.6" fill="#2b5e2b"/></g>
<g transform="translate(521.94,498.00)"><circle r="8.6" fill="#e4e4e4"/><path d="M-8.6,-0.3A8.6,8.6 0 0 1 8.6,-0.3Z" fill="#c4c4c4"/><circle r="8.3" fill="#3ee83e" fill-opacity="0.42"/><circle r="6.8" fill="#3ee83e" fill-opacity="0.12"/><circle r="4.6" fill="#2b5e2b"/></g>
<g transform="translate(548.90,201.44)"><circle r="8.6" fill="#e4e4e4"/><path d="M-8.6,-0.3A8.6,8.6 0 0 1 8.6,-0.3Z" fill="#c4c4c4"/><circle r="8.3" fill="#3ee83e" fill-opacity="0.42"/><circle r="6.8" fill="#3ee83e" fill-opacity="0.12"/><circle r="4.6" fill="#2b5e2b"/></g>
<g transform="translate(548.90,228.40)"><circle r="8.6" fill="#e4e4e4"/><path d="M-8.6,-0.3A8.6,8.6 0 0 1 8.6,-0.3Z" fill="#c4c4c4"/><circle r="8.3" fill="#3ee83e" fill-opacity="0.42"/><circle r="6.8" fill="#3ee83e" fill-opacity="0.12"/><circle r="4.6" fill="#2b5e2b"/></g>
<g transform="translate(548.90,255.36)"><circle r="8.6" fill="#e4e4e4"/><path d="M-8.6,-0.3A8.6,8.6 0 0 1 8.6,-0.3Z" fill="#c4c4c4"/><circle r="8.3" fill="#3ee83e" fill-opacity="0.42"/><circle r="6.8" fill="#3ee83e" fill-opacity="0.12"/><circle r="4.6" fill="#2b5e2b"/></g>
<g transform="translate(548.90,282.32)"><circle r="8.6" fill="#e4e4e4"/><path d="M-8.6,-0.3A8.6,8.6 0 0 1 8.6,-0.3Z" fill="#c4c4c4"/><circle r="8.3" fill="#3ee83e" fill-opacity="0.42"/><circle r="6.8" fill="#3ee83e" fill-opacity="0.12"/><circle r="4.6" fill="#2b5e2b"/></g>
<g transform="translate(548.90,309.28)"><circle r="8.6" fill="#e4e4e4"/><path d="M-8.6,-0.3A8.6,8.6 0 0 1 8.6,-0.3Z" fill="#c4c4c4"/><circle r="8.3" fill="#3ee83e" fill-opacity="0.42"/><circle r="6.8" fill="#3ee83e" fill-opacity="0.12"/><circle r="4.6" fill="#2b5e2b"/></g>
<g transform="translate(548.90,390.16)"><circle r="8.6" fill="#e4e4e4"/><path d="M-8.6,-0.3A8.6,8.6 0 0 1 8.6,-0.3Z" fill="#c4c4c4"/><circle r="8.3" fill="#3ee83e" fill-opacity="0.42"/><circle r="6.8" fill="#3ee83e" fill-opacity="0.12"/><circle r="4.6" fill="#2b5e2b"/></g>
<g transform="translate(548.90,417.12)"><circle r="8.6" fill="#e4e4e4"/><path d="M-8.6,-0.3A8.6,8.6 0 0 1 8.6,-0.3Z" fill="#c4c4c4"/><circle r="8.3" fill="#3ee83e" fill-opacity="0.42"/><circle r="6.8" fill="#3ee83e" fill-opacity="0.12"/><circle r="4.6" fill="#2b5e2b"/></g>
<g transform="translate(548.90,444.08)"><circle r="8.6" fill="#e4e4e4"/><path d="M-8.6,-0.3A8.6,8.6 0 0 1 8.6,-0.3Z" fill="#c4c4c4"/><circle r="8.3" fill="#3ee83e" fill-opacity="0.42"/><circle r="6.8" fill="#3ee83e" fill-opacity="0.12"/><circle r="4.6" fill="#2b5e2b"/></g>
<g transform="translate(548.90,471.04)"><circle r="8.6" fill="#e4e4e4"/><path d="M-8.6,-0.3A8.6,8.6 0 0 1 8.6,-0.3Z" fill="#c4c4c4"/><circle r="8.3" fill="#3ee83e" fill-opacity="0.42"/><circle r="6.8" fill="#3ee83e" fill-opacity="0.12"/><circle r="4.6" fill="#2b5e2b"/></g>
<g transform="translate(548.90,498.00)"><circle r="8.6" fill="#e4e4e4"/><path d="M-8.6,-0.3A8.6,8.6 0 0 1 8.6,-0.3Z" fill="#c4c4c4"/><circle r="8.3" fill="#3ee83e" fill-opacity="0.42"/><circle r="6.8" fill="#3ee83e" fill-opacity="0.12"/><circle r="4.6" fill="#2b5e2b"/></g>
<g transform="translate(575.86,201.44)"><circle r="8.6" fill="#e4e4e4"/><path d="M-8.6,-0.3A8.6,8.6 0 0 1 8.6,-0.3Z" fill="#c4c4c4"/><circle r="8.3" fill="#3ee83e" fill-opacity="0.42"/><circle r="6.8" fill="#3ee83e" fill-opacity="0.12"/><circle r="4.6" fill="#2b5e2b"/></g>
<g transform="translate(575.86,228.40)"><circle r="8.6" fill="#e4e4e4"/><path d="M-8.6,-0.3A8.6,8.6 0 0 1 8.6,-0.3Z" fill="#c4c4c4"/><circle r="8.3" fill="#3ee83e" fill-opacity="0.42"/><circle r="6.8" fill="#3ee83e" fill-opacity="0.12"/><circle r="4.6" fill="#2b5e2b"/></g>
<g transform="translate(575.86,255.36)"><circle r="8.6" fill="#e4e4e4"/><path d="M-8.6,-0.3A8.6,8.6 0 0 1 8.6,-0.3Z" fill="#c4c4c4"/><circle r="8.3" fill="#3ee83e" fill-opacity="0.42"/><circle r="6.8" fill="#3ee83e" fill-opacity="0.12"/><circle r="4.6" fill="#2b5e2b"/></g>
<g transform="translate(575.86,282.32)"><circle r="8.6" fill="#e4e4e4"/><path d="M-8.6,-0.3A8.6,8.6 0 0 1 8.6,-0.3Z" fill="#c4c4c4"/><circle r="8.3" fill="#3ee83e" fill-opacity="0.42"/><circle r="6.8" fill="#3ee83e" fill-opacity="0.12"/><circle r="4.6" fill="#2b5e2b"/></g>
<g transform="translate(575.86,309.28)"><circle r="8.6" fill="#e4e4e4"/><path d="M-8.6,-0.3A8.6,8.6 0 0 1 8.6,-0.3Z" fill="#c4c4c4"/><circle r="8.3" fill="#3ee83e" fill-opacity="0.42"/><circle r="6.8" fill="#3ee83e" fill-opacity="0.12"/><circle r="4.6" fill="#2b5e2b"/></g>
<g transform="translate(575.86,390.16)"><circle r="8.6" fill="#e4e4e4"/><path d="M-8.6,-0.3A8.6,8.6 0 0 1 8.6,-0.3Z" fill="#c4c4c4"/><circle r="8.3" fill="#3ee83e" fill-opacity="0.42"/><circle r="6.8" fill="#3ee83e" fill-opacity="0.12"/><circle r="4.6" fill="#2b5e2b"/></g>
<g transform="translate(575.86,417.12)"><circle r="8.6" fill="#e4e4e4"/><path d="M-8.6,-0.3A8.6,8.6 0 0 1 8.6,-0.3Z" fill="#c4c4c4"/><circle r="8.3" fill="#3ee83e" fill-opacity="0.42"/><circle r="6.8" fill="#3ee83e" fill-opacity="0.12"/><circle r="4.6" fill="#2b5e2b"/></g>
<g transform="translate(575.86,444.08)"><circle r="8.6" fill="#e4e4e4"/><path d="M-8.6,-0.3A8.6,8.6 0 0 1 8.6,-0.3Z" fill="#c4c4c4"/><circle r="8.3" fill="#3ee83e" fill-opacity="0.42"/><circle r="6.8" fill="#3ee83e" fill-opacity="0.12"/><circle r="4.6" fill="#2b5e2b"/></g>
<g transform="translate(575.86,471.04)"><circle r="8.6" fill="#e4e4e4"/><path d="M-8.6,-0.3A8.6,8.6 0 0 1 8.6,-0.3Z" fill="#c4c4c4"/><circle r="8.3" fill="#3ee83e" fill-opacity="0.42"/><circle r="6.8" fill="#3ee83e" fill-opacity="0.12"/><circle r="4.6" fill="#2b5e2b"/></g>
<g transform="translate(575.86,498.00)"><circle r="8.6" fill="#e4e4e4"/><path d="M-8.6,-0.3A8.6,8.6 0 0 1 8.6,-0.3Z" fill="#c4c4c4"/><circle r="8.3" fill="#3ee83e" fill-opacity="0.42"/><circle r="6.8" fill="#3ee83e" fill-opacity="0.12"/><circle r="4.6" fill="#2b5e2b"/></g>
<g transform="translate(602.82,201.44)"><circle r="8.6" fill="#e4e4e4"/><path d="M-8.6,-0.3A8.6,8.6 0 0 1 8.6,-0.3Z" fill="#c4c4c4"/><circle r="8.3" fill="#3ee83e" fill-opacity="0.42"/><circle r="6.8" fill="#3ee83e" fill-opacity="0.12"/><circle r="4.6" fill="#2b5e2b"/></g>
<g transform="translate(602.82,228.40)"><circle r="8.6" fill="#e4e4e4"/><path d="M-8.6,-0.3A8.6,8.6 0 0 1 8.6,-0.3Z" fill="#c4c4c4"/><circle r="8.3" fill="#3ee83e" fill-opacity="0.42"/><circle r="6.8" fill="#3ee83e" fill-opacity="0.12"/><circle r="4.6" fill="#2b5e2b"/></g>
<g transform="translate(602.82,255.36)"><circle r="8.6" fill="#e4e4e4"/><path d="M-8.6,-0.3A8.6,8.6 0 0 1 8.6,-0.3Z" fill="#c4c4c4"/><circle r="8.3" fill="#3ee83e" fill-opacity="0.42"/><circle r="6.8" fill="#3ee83e" fill-opacity="0.12"/><circle r="4.6" fill="#2b5e2b"/></g>
<g transform="translate(602.82,282.32)"><circle r="8.6" fill="#e4e4e4"/><path d="M-8.6,-0.3A8.6,8.6 0 0 1 8.6,-0.3Z" fill="#c4c4c4"/><circle r="8.3" fill="#3ee83e" fill-opacity="0.42"/><circle r="6.8" fill="#3ee83e" fill-opacity="0.12"/><circle r="4.6" fill="#2b5e2b"/></g>
<g transform="translate(602.82,309.28)"><circle r="8.6" fill="#e4e4e4"/><path d="M-8.6,-0.3A8.6,8.6 0 0 1 8.6,-0.3Z" fill="#c4c4c4"/><circle r="8.3" fill="#3ee83e" fill-opacity="0.42"/><circle r="6.8" fill="#3ee83e" fill-opacity="0.12"/><circle r="4.6" fill="#2b5e2b"/></g>
<g transform="translate(602.82,390.16)"><circle r="8.6" fill="#e4e4e4"/><path d="M-8.6,-0.3A8.6,8.6 0 0 1 8.6,-0.3Z" fill="#c4c4c4"/><circle r="8.3" fill="#3ee83e" fill-opacity="0.42"/><circle r="6.8" fill="#3ee83e" fill-opacity="0.12"/><circle r="4.6" fill="#2b5e2b"/></g>
<g transform="translate(602.82,417.12)"><circle r="8.6" fill="#e4e4e4"/><path d="M-8.6,-0.3A8.6,8.6 0 0 1 8.6,-0.3Z" fill="#c4c4c4"/><circle r="8.3" fill="#3ee83e" fill-opacity="0.42"/><circle r="6.8" fill="#3ee83e" fill-opacity="0.12"/><circle r="4.6" fill="#2b5e2b"/></g>
<g transform="translate(602.82,444.08)"><circle r="8.6" fill="#e4e4e4"/><path d="M-8.6,-0.3A8.6,8.6 0 0 1 8.6,-0.3Z" fill="#c4c4c4"/><circle r="8.3" fill="#3ee83e" fill-opacity="0.42"/><circle r="6.8" fill="#3ee83e" fill-opacity="0.12"/><circle r="4.6" fill="#2b5e2b"/></g>
<g transform="translate(602.82,471.04)"><circle r="8.6" fill="#e4e4e4"/><path d="M-8.6,-0.3A8.6,8.6 0 0 1 8.6,-0.3Z" fill="#c4c4c4"/><circle r="8.3" fill="#3ee83e" fill-opacity="0.42"/><circle r="6.8" fill="#3ee83e" fill-opacity="0.12"/><circle r="4.6" fill="#2b5e2b"/></g>
<g transform="translate(602.82,498.00)"><circle r="8.6" fill="#e4e4e4"/><path d="M-8.6,-0.3A8.6,8.6 0 0 1 8.6,-0.3Z" fill="#c4c4c4"/><circle r="8.3" fill="#3ee83e" fill-opacity="0.42"/><circle r="6.8" fill="#3ee83e" fill-opacity="0.12"/><circle r="4.6" fill="#2b5e2b"/></g>
<g transform="translate(629.78,201.44)"><circle r="8.6" fill="#e6e6e6"/><path d="M-8.6,-0.3A8.6,8.6 0 0 1 8.6,-0.3Z" fill="#c3c3c3"/><circle r="4.6" fill="#353535"/></g>
<g transform="translate(629.78,228.40)"><circle r="8.6" fill="#e6e6e6"/><path d="M-8.6,-0.3A8.6,8.6 0 0 1 8.6,-0.3Z" fill="#c3c3c3"/><circle r="4.6" fill="#353535"/></g>
<g transform="translate(629.78,255.36)"><circle r="8.6" fill="#e6e6e6"/><path d="M-8.6,-0.3A8.6,8.6 0 0 1 8.6,-0.3Z" fill="#c3c3c3"/><circle r="4.6" fill="#353535"/></g>
<g transform="translate(629.78,282.32)"><circle r="8.6" fill="#e6e6e6"/><path d="M-8.6,-0.3A8.6,8.6 0 0 1 8.6,-0.3Z" fill="#c3c3c3"/><circle r="4.6" fill="#353535"/></g>
<g transform="translate(629.78,309.28)"><circle r="8.6" fill="#e6e6e6"/><path d="M-8.6,-0.3A8.6,8.6 0 0 1 8.6,-0.3Z" fill="#c3c3c3"/><circle r="4.6" fill="#353535"/></g>
<g transform="translate(629.78,390.16)"><circle r="8.6" fill="#e6e6e6"/><path d="M-8.6,-0.3A8.6,8.6 0 0 1 8.6,-0.3Z" fill="#c3c3c3"/><circle r="4.6" fill="#353535"/></g>
<g transform="translate(629.78,417.12)"><circle r="8.6" fill="#e6e6e6"/><path d="M-8.6,-0.3A8.6,8.6 0 0 1 8.6,-0.3Z" fill="#c3c3c3"/><circle r="4.6" fill="#353535"/></g>
<g transform="translate(629.78,444.08)"><circle r="8.6" fill="#e6e6e6"/><path d="M-8.6,-0.3A8.6,8.6 0 0 1 8.6,-0.3Z" fill="#c3c3c3"/><circle r="4.6" fill="#353535"/></g>
<g transform="translate(629.78,471.04)"><circle r="8.6" fill="#e6e6e6"/><path d="M-8.6,-0.3A8.6,8.6 0 0 1 8.6,-0.3Z" fill="#c3c3c3"/><circle r="4.6" fill="#353535"/></g>
<g transform="translate(629.78,498.00)"><circle r="8.6" fill="#e6e6e6"/><path d="M-8.6,-0.3A8.6,8.6 0 0 1 8.6,-0.3Z" fill="#c3c3c3"/><circle r="4.6" fill="#353535"/></g>
<g transform="translate(656.74,201.44)"><circle r="8.6" fill="#e6e6e6"/><path d="M-8.6,-0.3A8.6,8.6 0 0 1 8.6,-0.3Z" fill="#c3c3c3"/><circle r="4.6" fill="#353535"/></g>
<g transform="translate(656.74,228.40)"><circle r="8.6" fill="#e6e6e6"/><path d="M-8.6,-0.3A8.6,8.6 0 0 1 8.6,-0.3Z" fill="#c3c3c3"/><circle r="4.6" fill="#353535"/></g>
<g transform="translate(656.74,255.36)"><circle r="8.6" fill="#e6e6e6"/><path d="M-8.6,-0.3A8.6,8.6 0 0 1 8.6,-0.3Z" fill="#c3c3c3"/><circle r="4.6" fill="#353535"/></g>
<g transform="translate(656.74,282.32)"><circle r="8.6" fill="#e6e6e6"/><path d="M-8.6,-0.3A8.6,8.6 0 0 1 8.6,-0.3Z" fill="#c3c3c3"/><circle r="4.6" fill="#353535"/></g>
<g transform="translate(656.74,309.28)"><circle r="8.6" fill="#e6e6e6"/><path d="M-8.6,-0.3A8.6,8.6 0 0 1 8.6,-0.3Z" fill="#c3c3c3"/><circle r="4.6" fill="#353535"/></g>
<g transform="translate(656.74,390.16)"><circle r="8.6" fill="#e6e6e6"/><path d="M-8.6,-0.3A8.6,8.6 0 0 1 8.6,-0.3Z" fill="#c3c3c3"/><circle r="4.6" fill="#353535"/></g>
<g transform="translate(656.74,417.12)"><circle r="8.6" fill="#e6e6e6"/><path d="M-8.6,-0.3A8.6,8.6 0 0 1 8.6,-0.3Z" fill="#c3c3c3"/><circle r="4.6" fill="#353535"/></g>
<g transform="translate(656.74,444.08)"><circle r="8.6" fill="#e6e6e6"/><path d="M-8.6,-0.3A8.6,8.6 0 0 1 8.6,-0.3Z" fill="#c3c3c3"/><circle r="4.6" fill="#353535"/></g>
<g transform="translate(656.74,471.04)"><circle r="8.6" fill="#e6e6e6"/><path d="M-8.6,-0.3A8.6,8.6 0 0 1 8.6,-0.3Z" fill="#c3c3c3"/><circle r="4.6" fill="#353535"/></g>
<g transform="translate(656.74,498.00)"><circle r="8.6" fill="#e6e6e6"/><path d="M-8.6,-0.3A8.6,8.6 0 0 1 8.6,-0.3Z" fill="#c3c3c3"/><circle r="4.6" fill="#353535"/></g>
<text transform="translate(38.2,171.2) rotate(-90)" x="0" y="0" text-anchor="middle" dominant-baseline="central" font-family="Liberation Sans" font-size="17.5" fill="#b4b4b4" stroke="#dadada" stroke-width="0.55">40</text>
<text transform="translate(38.2,530.5) rotate(-90)" x="0" y="0" text-anchor="middle" dominant-baseline="central" font-family="Liberation Sans" font-size="17.5" fill="#b4b4b4" stroke="#dadada" stroke-width="0.55">40</text>
<text transform="translate(173.0,171.2) rotate(-90)" x="0" y="0" text-anchor="middle" dominant-baseline="central" font-family="Liberation Sans" font-size="17.5" fill="#b4b4b4" stroke="#dadada" stroke-width="0.55">45</text>
<text transform="translate(173.0,530.5) rotate(-90)" x="0" y="0" text-anchor="middle" dominant-baseline="central" font-family="Liberation Sans" font-size="17.5" fill="#b4b4b4" stroke="#dadada" stroke-width="0.55">45</text>
<text transform="translate(307.8,171.2) rotate(-90)" x="0" y="0" text-anchor="middle" dominant-baseline="central" font-family="Liberation Sans" font-size="17.5" fill="#b4b4b4" stroke="#dadada" stroke-width="0.55">50</text>
<text transform="translate(307.8,530.5) rotate(-90)" x="0" y="0" text-anchor="middle" dominant-baseline="central" font-family="Liberation Sans" font-size="17.5" fill="#b4b4b4" stroke="#dadada" stroke-width="0.55">50</text>
<text transform="translate(442.6,171.2) rotate(-90)" x="0" y="0" text-anchor="middle" dominant-baseline="central" font-family="Liberation Sans" font-size="17.5" fill="#b4b4b4" stroke="#dadada" stroke-width="0.55">55</text>
<text transform="translate(442.6,530.5) rotate(-90)" x="0" y="0" text-anchor="middle" dominant-baseline="central" font-family="Liberation Sans" font-size="17.5" fill="#b4b4b4" stroke="#dadada" stroke-width="0.55">55</text>
<text transform="translate(577.4,171.2) rotate(-90)" x="0" y="0" text-anchor="middle" dominant-baseline="central" font-family="Liberation Sans" font-size="17.5" fill="#b4b4b4" stroke="#dadada" stroke-width="0.55">60</text>
<text transform="translate(577.4,530.5) rotate(-90)" x="0" y="0" text-anchor="middle" dominant-baseline="central" font-family="Liberation Sans" font-size="17.5" fill="#b4b4b4" stroke="#dadada" stroke-width="0.55">60</text>
<text transform="translate(682.3,201.4) rotate(-90)" text-anchor="middle" dominant-baseline="central" font-family="Liberation Sans" font-size="17.5" fill="#b4b4b4" stroke="#dadada" stroke-width="0.55">J</text>
<text transform="translate(682.3,228.4) rotate(-90)" text-anchor="middle" dominant-baseline="central" font-family="Liberation Sans" font-size="17.5" fill="#b4b4b4" stroke="#dadada" stroke-width="0.55">I</text>
<text transform="translate(682.3,255.4) rotate(-90)" text-anchor="middle" dominant-baseline="central" font-family="Liberation Sans" font-size="17.5" fill="#b4b4b4" stroke="#dadada" stroke-width="0.55">H</text>
<text transform="translate(682.3,282.3) rotate(-90)" text-anchor="middle" dominant-baseline="central" font-family="Liberation Sans" font-size="17.5" fill="#b4b4b4" stroke="#dadada" stroke-width="0.55">G</text>
<text transform="translate(682.3,309.3) rotate(-90)" text-anchor="middle" dominant-baseline="central" font-family="Liberation Sans" font-size="17.5" fill="#b4b4b4" stroke="#dadada" stroke-width="0.55">F</text>
<text transform="translate(682.3,390.2) rotate(-90)" text-anchor="middle" dominant-baseline="central" font-family="Liberation Sans" font-size="17.5" fill="#b4b4b4" stroke="#dadada" stroke-width="0.55">E</text>
<text transform="translate(682.3,417.1) rotate(-90)" text-anchor="middle" dominant-baseline="central" font-family="Liberation Sans" font-size="17.5" fill="#b4b4b4" stroke="#dadada" stroke-width="0.55">D</text>
<text transform="translate(682.3,444.1) rotate(-90)" text-anchor="middle" dominant-baseline="central" font-family="Liberation Sans" font-size="17.5" fill="#b4b4b4" stroke="#dadada" stroke-width="0.55">C</text>
<text transform="translate(682.3,471.0) rotate(-90)" text-anchor="middle" dominant-baseline="central" font-family="Liberation Sans" font-size="17.5" fill="#b4b4b4" stroke="#dadada" stroke-width="0.55">B</text>
<text transform="translate(682.3,498.0) rotate(-90)" text-anchor="middle" dominant-baseline="central" font-family="Liberation Sans" font-size="17.5" fill="#b4b4b4" stroke="#dadada" stroke-width="0.55">A</text>
<rect x="158" y="242" width="458" height="189" fill="#236272"/>
<rect x="158" y="293" width="32" height="86.5" fill="#5fd160"/>
<rect x="190" y="293" width="89.4" height="86.5" fill="#6e878c"/>
<rect x="166" y="344" width="13.3" height="27" fill="#6e878c"/>
<rect x="166" y="348" width="13.3" height="19" fill="#ecdcaa"/>
<rect x="565" y="301" width="65" height="70" fill="#6e878c"/>
<rect x="414" y="312" width="35" height="49" fill="#ecdcaa"/>
<ellipse cx="431.5" cy="336.5" rx="15.3" ry="21.5" fill="#ffc800"/>
<rect x="468" y="336" width="24.5" height="27" fill="#a89a8e"/>
<text x="288.6" y="312.8" font-size="9.9" textLength="86.6" lengthAdjust="spacingAndGlyphs" fill="#eef2f2">Switcch Science</text>
<text x="288.6" y="326.9" font-size="9.9" textLength="94" lengthAdjust="spacingAndGlyphs" fill="#eef2f2">mbed TY51822r3</text>
<circle cx="198.42" cy="255.36" r="6.9" fill="#2aa98a" stroke="#18c23a" stroke-width="2.2"/>
<circle cx="198.42" cy="417.12" r="6.9" fill="#2aa98a" stroke="#18c23a" stroke-width="2.2"/>
<text transform="translate(202.72,261.96) rotate(-90)" text-anchor="end" style="font-family:'Liberation Mono'" font-size="11.7" fill="#e4ecee">GND</text>
<text transform="translate(202.72,412.12) rotate(-90)" text-anchor="start" style="font-family:'Liberation Mono'" font-size="11.7" fill="#e4ecee">P0_25</text>
<circle cx="225.38" cy="255.36" r="6.9" fill="#2aa98a" stroke="#18c23a" stroke-width="2.2"/>
<circle cx="225.38" cy="417.12" r="6.9" fill="#2aa98a" stroke="#18c23a" stroke-width="2.2"/>
<text transform="translate(229.68,261.96) rotate(-90)" text-anchor="end" style="font-family:'Liberation Mono'" font-size="11.7" fill="#e4ecee">P0_24</text>
<text transform="translate(229.68,412.12) rotate(-90)" text-anchor="start" style="font-family:'Liberation Mono'" font-size="11.7" fill="#e4ecee">P0_28</text>
<circle cx="252.34" cy="255.36" r="6.9" fill="#2aa98a" stroke="#18c23a" stroke-width="2.2"/>
<rect x="247.84" y="411.62" width="9" height="11" fill="#7a7a3a"/><rect x="249.34" y="413.12" width="6" height="8" fill="#5aa040"/>
<text transform="translate(256.64,261.96) rotate(-90)" text-anchor="end" style="font-family:'Liberation Mono'" font-size="11.7" fill="#e4ecee">P0_23</text>
<text transform="translate(256.64,412.12) rotate(-90)" text-anchor="start" style="font-family:'Liberation Mono'" font-size="11.7" fill="#e4ecee">P0_29/SCL</text>
<circle cx="279.30" cy="255.36" r="6.9" fill="#2aa98a" stroke="#18c23a" stroke-width="2.2"/>
<circle cx="279.30" cy="417.12" r="6.9" fill="#2aa98a" stroke="#18c23a" stroke-width="2.2"/>
<text transform="translate(283.60,261.96) rotate(-90)" text-anchor="end" style="font-family:'Liberation Mono'" font-size="11.7" fill="#e4ecee">P0_22</text>
<text transform="translate(283.60,412.12) rotate(-90)" text-anchor="start" style="font-family:'Liberation Mono'" font-size="11.7" fill="#e4ecee">P0_30/SDA</text>
<circle cx="306.26" cy="255.36" r="6.9" fill="#2aa98a" stroke="#18c23a" stroke-width="2.2"/>
<circle cx="306.26" cy="417.12" r="6.9" fill="#2aa98a" stroke="#18c23a" stroke-width="2.2"/>
<text transform="translate(310.56,261.96) rotate(-90)" text-anchor="end" style="font-family:'Liberation Mono'" font-size="11.7" fill="#e4ecee">P0_21</text>
<text transform="translate(310.56,412.12) rotate(-90)" text-anchor="start" style="font-family:'Liberation Mono'" font-size="11.7" fill="#e4ecee">P0_0</text>
<circle cx="333.22" cy="255.36" r="6.9" fill="#2aa98a" stroke="#18c23a" stroke-width="2.2"/>
<circle cx="333.22" cy="417.12" r="6.9" fill="#2aa98a" stroke="#18c23a" stroke-width="2.2"/>
<text transform="translate(337.52,261.96) rotate(-90)" text-anchor="end" style="font-family:'Liberation Mono'" font-size="11.7" fill="#e4ecee">P0_20</text>
<text transform="translate(337.52,412.12) rotate(-90)" text-anchor="start" style="font-family:'Liberation Mono'" font-size="11.7" fill="#e4ecee">P0_1</text>
<circle cx="360.18" cy="255.36" r="6.9" fill="#2aa98a" stroke="#18c23a" stroke-width="2.2"/>
<circle cx="360.18" cy="417.12" r="6.9" fill="#2aa98a" stroke="#18c23a" stroke-width="2.2"/>
<text transform="translate(364.48,261.96) rotate(-90)" text-anchor="end" style="font-family:'Liberation Mono'" font-size="11.7" fill="#e4ecee">P0_16</text>
<text transform="translate(364.48,412.12) rotate(-90)" text-anchor="start" style="font-family:'Liberation Mono'" font-size="11.7" fill="#e4ecee">GND</text>
<circle cx="387.14" cy="255.36" r="6.9" fill="#2aa98a" stroke="#18c23a" stroke-width="2.2"/>
<rect x="382.64" y="411.62" width="9" height="11" fill="#7a7a3a"/><rect x="384.14" y="413.12" width="6" height="8" fill="#5aa040"/>
<text transform="translate(391.44,261.96) rotate(-90)" text-anchor="end" style="font-family:'Liberation Mono'" font-size="11.7" fill="#e4ecee">P0_17</text>
<text transform="translate(391.44,412.12) rotate(-90)" text-anchor="start" style="font-family:'Liberation Mono'" font-size="11.7" fill="#e4ecee">VDD</text>
<circle cx="414.10" cy="255.36" r="6.9" fill="#2aa98a" stroke="#18c23a" stroke-width="2.2"/>
<circle cx="414.10" cy="417.12" r="6.9" fill="#2aa98a" stroke="#18c23a" stroke-width="2.2"/>
<text transform="translate(418.40,261.96) rotate(-90)" text-anchor="end" style="font-family:'Liberation Mono'" font-size="11.7" fill="#e4ecee">P0_18</text>
<text transform="translate(418.40,412.12) rotate(-90)" text-anchor="start" style="font-family:'Liberation Mono'" font-size="11.7" fill="#e4ecee">P0_7</text>
<circle cx="441.06" cy="255.36" r="6.9" fill="#2aa98a" stroke="#18c23a" stroke-width="2.2"/>
<circle cx="441.06" cy="417.12" r="6.9" fill="#2aa98a" stroke="#18c23a" stroke-width="2.2"/>
<text transform="translate(445.36,261.96) rotate(-90)" text-anchor="end" style="font-family:'Liberation Mono'" font-size="11.7" fill="#e4ecee">P0_19</text>
<text transform="translate(445.36,412.12) rotate(-90)" text-anchor="start" style="font-family:'Liberation Mono'" font-size="11.7" fill="#e4ecee">P0_6</text>
<circle cx="468.02" cy="255.36" r="6.9" fill="#2aa98a" stroke="#18c23a" stroke-width="2.2"/>
<circle cx="468.02" cy="417.12" r="6.9" fill="#2aa98a" stroke="#18c23a" stroke-width="2.2"/>
<text transform="translate(472.32,261.96) rotate(-90)" text-anchor="end" style="font-family:'Liberation Mono'" font-size="11.7" fill="#e4ecee">P0_15</text>
<text transform="translate(472.32,412.12) rotate(-90)" text-anchor="start" style="font-family:'Liberation Mono'" font-size="11.7" fill="#e4ecee">P0_5</text>
<circle cx="494.98" cy="255.36" r="6.9" fill="#2aa98a" stroke="#18c23a" stroke-width="2.2"/>
<circle cx="494.98" cy="417.12" r="6.9" fill="#2aa98a" stroke="#18c23a" stroke-width="2.2"/>
<text transform="translate(499.28,261.96) rotate(-90)" text-anchor="end" style="font-family:'Liberation Mono'" font-size="11.7" fill="#e4ecee">P0_14</text>
<text transform="translate(499.28,412.12) rotate(-90)" text-anchor="start" style="font-family:'Liberation Mono'" font-size="11.7" fill="#e4ecee">P0_4</text>
<circle cx="521.94" cy="255.36" r="6.9" fill="#2aa98a" stroke="#18c23a" stroke-width="2.2"/>
<circle cx="521.94" cy="417.12" r="6.9" fill="#2aa98a" stroke="#18c23a" stroke-width="2.2"/>
<text transform="translate(526.24,261.96) rotate(-90)" text-anchor="end" style="font-family:'Liberation Mono'" font-size="11.7" fill="#e4ecee">P0_13</text>
<text transform="translate(526.24,412.12) rotate(-90)" text-anchor="start" style="font-family:'Liberation Mono'" font-size="11.7" fill="#e4ecee">P0_3</text>
<circle cx="548.90" cy="255.36" r="6.9" fill="#2aa98a" stroke="#18c23a" stroke-width="2.2"/>
<circle cx="548.90" cy="417.12" r="6.9" fill="#2aa98a" stroke="#18c23a" stroke-width="2.2"/>
<text transform="translate(553.20,261.96) rotate(-90)" text-anchor="end" style="font-family:'Liberation Mono'" font-size="11.7" fill="#e4ecee">P0_12</text>
<text transform="translate(553.20,412.12) rotate(-90)" text-anchor="start" style="font-family:'Liberation Mono'" font-size="11.7" fill="#e4ecee">P0_2</text>
<circle cx="575.86" cy="255.36" r="6.9" fill="#2aa98a" stroke="#18c23a" stroke-width="2.2"/>
<circle cx="575.86" cy="417.12" r="6.9" fill="#2aa98a" stroke="#18c23a" stroke-width="2.2"/>
<text transform="translate(580.16,261.96) rotate(-90)" text-anchor="end" style="font-family:'Liberation Mono'" font-size="11.7" fill="#e4ecee">P0_11</text>
<text transform="translate(580.16,412.12) rotate(-90)" text-anchor="start" style="font-family:'Liberation Mono'" font-size="11.7" fill="#e4ecee">P0_8</text>
<circle cx="602.82" cy="255.36" r="6.9" fill="#2aa98a" stroke="#18c23a" stroke-width="2.2"/>
<circle cx="602.82" cy="417.12" r="6.9" fill="#2aa98a" stroke="#18c23a" stroke-width="2.2"/>
<text transform="translate(607.12,261.96) rotate(-90)" text-anchor="end" style="font-family:'Liberation Mono'" font-size="11.7" fill="#e4ecee">P0_10</text>
<text transform="translate(607.12,412.12) rotate(-90)" text-anchor="start" style="font-family:'Liberation Mono'" font-size="11.7" fill="#e4ecee">P0_9</text>
<path d="M63.62,93.60 L63.62,201.44" fill="none" stroke="#8e8e8e" stroke-width="7.4" stroke-linecap="round" stroke-linejoin="round"/>
<path d="M63.62,93.60 L63.62,100.60" stroke="#6ea66e" stroke-width="7.4" stroke-linecap="round"/>
<path d="M63.62,201.44 L63.62,194.44" stroke="#6ea66e" stroke-width="7.4" stroke-linecap="round"/>
<path d="M59.82,201.44 A3.8000000000000003,3.8000000000000003 0 0 0 67.42,201.44" fill="none" stroke="#2d4a2d" stroke-width="0.8" stroke-dasharray="1.2 1"/>
<g transform="translate(63.62,114.10)">
<path d="M-9.6,0 L9.6,0 Q12.6,0 12.6,3 L12.6,17 C12.6,23 10.3,22 10.3,28 L10.3,44 C10.3,50 12.6,49 12.6,55 L12.6,65 Q12.6,68 9.6,68 L-9.6,68 Q-12.6,68 -12.6,65 L-12.6,55 C-12.6,49 -10.3,50 -10.3,44 L-10.3,28 C-10.3,22 -12.6,23 -12.6,17 L-12.6,3 Q-12.6,0 -9.6,0 Z" fill="#dcb478"/>
<rect x="-12.6" y="5.7" width="25.2" height="3.2" fill="#b5a24a"/><rect x="-12" y="5.7" width="5" height="3.2" fill="#efe27a"/>
<path d="M-11.3,23.9 L11.3,23.9 L10.6,30.7 L-10.6,30.7 Z" fill="#8b3e06"/>
<rect x="-10.3" y="38" width="20.6" height="6.5" fill="#000000"/>
<path d="M-10.6,52.2 L10.6,52.2 L12.6,56 L12.6,58.3 L-12.6,58.3 L-12.6,56 Z" fill="#8b3e06"/>
<path d="M4,1 Q6,4 9.6,4 L9.6,64 Q9.6,66 7,66 Q4,66 4,64 Z" fill="#5a3a10" opacity="0.32"/>
<rect x="-9.5" y="10" width="2.5" height="14" rx="1.2" fill="#fff" opacity="0.25"/>
<circle cx="-8.5" cy="63" r="1.5" fill="#fff" opacity="0.4"/>
</g>
<path d="M252.34,498.00 L252.34,605.84" fill="none" stroke="#8e8e8e" stroke-width="7.4" stroke-linecap="round" stroke-linejoin="round"/>
<path d="M252.34,498.00 L252.34,505.00" stroke="#6ea66e" stroke-width="7.4" stroke-linecap="round"/>
<g transform="translate(252.34,518.80)">
<path d="M-9.6,0 L9.6,0 Q12.6,0 12.6,3 L12.6,17 C12.6,23 10.3,22 10.3,28 L10.3,44 C10.3,50 12.6,49 12.6,55 L12.6,65 Q12.6,68 9.6,68 L-9.6,68 Q-12.6,68 -12.6,65 L-12.6,55 C-12.6,49 -10.3,50 -10.3,44 L-10.3,28 C-10.3,22 -12.6,23 -12.6,17 L-12.6,3 Q-12.6,0 -9.6,0 Z" fill="#dcb478"/>
<rect x="-12.6" y="5.7" width="25.2" height="3.2" fill="#b5a24a"/><rect x="-12" y="5.7" width="5" height="3.2" fill="#efe27a"/>
<path d="M-11.3,23.9 L11.3,23.9 L10.6,30.7 L-10.6,30.7 Z" fill="#ff5a00"/>
<rect x="-10.3" y="38" width="20.6" height="6.5" fill="#000000"/>
<path d="M-10.6,52.2 L10.6,52.2 L12.6,56 L12.6,58.3 L-12.6,58.3 L-12.6,56 Z" fill="#8b3e06"/>
<path d="M4,1 Q6,4 9.6,4 L9.6,64 Q9.6,66 7,66 Q4,66 4,64 Z" fill="#5a3a10" opacity="0.32"/>
<rect x="-9.5" y="10" width="2.5" height="14" rx="1.2" fill="#fff" opacity="0.25"/>
<circle cx="-8.5" cy="63" r="1.5" fill="#fff" opacity="0.4"/>
</g>
<path d="M279.30,498.00 L279.30,605.84" fill="none" stroke="#8e8e8e" stroke-width="7.4" stroke-linecap="round" stroke-linejoin="round"/>
<path d="M279.30,498.00 L279.30,505.00" stroke="#6ea66e" stroke-width="7.4" stroke-linecap="round"/>
<g transform="translate(279.30,518.80)">
<path d="M-9.6,0 L9.6,0 Q12.6,0 12.6,3 L12.6,17 C12.6,23 10.3,22 10.3,28 L10.3,44 C10.3,50 12.6,49 12.6,55 L12.6,65 Q12.6,68 9.6,68 L-9.6,68 Q-12.6,68 -12.6,65 L-12.6,55 C-12.6,49 -10.3,50 -10.3,44 L-10.3,28 C-10.3,22 -12.6,23 -12.6,17 L-12.6,3 Q-12.6,0 -9.6,0 Z" fill="#dcb478"/>
<rect x="-12.6" y="5.7" width="25.2" height="3.2" fill="#b5a24a"/><rect x="-12" y="5.7" width="5" height="3.2" fill="#efe27a"/>
<path d="M-11.3,23.9 L11.3,23.9 L10.6,30.7 L-10.6,30.7 Z" fill="#ff5a00"/>
<rect x="-10.3" y="38" width="20.6" height="6.5" fill="#000000"/>
<path d="M-10.6,52.2 L10.6,52.2 L12.6,56 L12.6,58.3 L-12.6,58.3 L-12.6,56 Z" fill="#8b3e06"/>
<path d="M4,1 Q6,4 9.6,4 L9.6,64 Q9.6,66 7,66 Q4,66 4,64 Z" fill="#5a3a10" opacity="0.32"/>
<rect x="-9.5" y="10" width="2.5" height="14" rx="1.2" fill="#fff" opacity="0.25"/>
<circle cx="-8.5" cy="63" r="1.5" fill="#fff" opacity="0.4"/>
</g>
<path d="M252.34,605.84 L252.34,596.84" stroke="#6ea66e" stroke-width="7.4" stroke-linecap="round"/>
<path d="M248.54,605.84 A3.8000000000000003,3.8000000000000003 0 0 0 256.14,605.84" fill="none" stroke="#2d4a2d" stroke-width="0.8" stroke-dasharray="1.2 1"/>
<circle cx="279.30" cy="605.84" r="6.4" fill="#2aa98a" stroke="#22d040" stroke-width="2.2"/>
<path d="M117.45,86.00 L117.54,201.44" fill="none" stroke="#8e8e8e" stroke-width="8.4" stroke-linecap="round" stroke-linejoin="round"/>
<path d="M132.00,86.00 L132.00,93.00 L144.50,108.00 L144.50,201.44" fill="none" stroke="#8e8e8e" stroke-width="8.4" stroke-linecap="round" stroke-linejoin="round"/>
<path d="M117.54,201.44 L117.54,183.44" stroke="#6ea66e" stroke-width="8.4" stroke-linecap="round"/>
<path d="M113.24,201.44 A4.3,4.3 0 0 0 121.84,201.44" fill="none" stroke="#2d4a2d" stroke-width="0.8" stroke-dasharray="1.2 1"/>
<path d="M144.50,201.44 L144.50,183.44" stroke="#6ea66e" stroke-width="8.4" stroke-linecap="round"/>
<path d="M140.20,201.44 A4.3,4.3 0 0 0 148.80,201.44" fill="none" stroke="#2d4a2d" stroke-width="0.8" stroke-dasharray="1.2 1"/>
<g>
<path d="M100.6,48 L100.6,70 C100.6,82 114,87.5 130,87.5 C147,87.5 159.2,78 159.2,63 C159.2,54 156,48.5 152.9,46 Z" fill="#2fcdf3"/>
<path d="M100.6,67 L100.6,26.5 A26.15,26.15 0 0 1 152.9,26.5 L152.9,67 C152.9,76 140,80.5 126.8,80.5 C113,80.5 100.6,76 100.6,67 Z" fill="#48d8f8"/>
<path d="M104,70 C110,77 120,78.5 128,78.5 C134,78.5 140,77 143,75.5" fill="none" stroke="#a8eefb" stroke-width="1.6"/>
<path d="M109.4,84 L109.4,26.5 A17.35,17.35 0 0 1 117.6,11.8" fill="none" stroke="#a6ecfb" stroke-width="7" opacity="0.85"/>
<path d="M132.3,5.7 A21.4,21.4 0 0 1 143.4,13" fill="none" stroke="#a6ecfb" stroke-width="4" opacity="0.9"/>
<rect x="112.9" y="32.6" width="32.1" height="16.7" fill="#2aaecb" opacity="0.85"/>
<rect x="142" y="32.6" width="3" height="27.4" fill="#2aaecb" opacity="0.85"/>
<rect x="109.2" y="35.7" width="3.7" height="23.3" fill="#4ec0d8" opacity="0.7"/>
<path d="M123.2,49.6 L141.5,32" stroke="#48d8f8" stroke-width="3"/>
<path d="M113,49.3 L145,49.3 L145,60 L142,60 L142,49.3 Z" fill="#3ccbe8" opacity="0.35"/>
</g>
<path d="M198.42,93.60 L198.42,201.44" fill="none" stroke="#d7d23a" stroke-width="12" stroke-linecap="round" stroke-linejoin="round"/>
<path d="M198.42,93.60 L198.42,201.44" fill="none" stroke="#fff700" stroke-width="6.3" stroke-linecap="butt"/>
<circle cx="198.42" cy="93.60" r="3.15" fill="#fff700"/>
<circle cx="198.42" cy="201.44" r="3.15" fill="#fff700"/>
<path d="M63.62,228.40 L117.54,228.40" fill="none" stroke="#b46c2e" stroke-width="12" stroke-linecap="round" stroke-linejoin="round"/>
<path d="M63.62,228.40 L117.54,228.40" fill="none" stroke="#f06200" stroke-width="6.3" stroke-linecap="butt"/>
<circle cx="63.62" cy="228.40" r="3.15" fill="#f06200"/>
<circle cx="117.54" cy="228.40" r="3.15" fill="#f06200"/>
<path d="M144.50,228.40 L306.26,228.40" fill="none" stroke="#b46c2e" stroke-width="12" stroke-linecap="round" stroke-linejoin="round"/>
<path d="M144.50,228.40 L306.26,228.40" fill="none" stroke="#f06200" stroke-width="6.3" stroke-linecap="butt"/>
<circle cx="144.50" cy="228.40" r="3.15" fill="#f06200"/>
<circle cx="306.26" cy="228.40" r="3.15" fill="#f06200"/>
<path d="M360.18,498.00 L360.18,578.88" fill="none" stroke="#0c0c0c" stroke-width="12" stroke-linecap="round" stroke-linejoin="round"/>
<path d="M360.18,498.00 L360.18,578.88" fill="none" stroke="#444444" stroke-width="6.3" stroke-linecap="butt"/>
<circle cx="360.18" cy="498.00" r="3.15" fill="#444444"/>
<circle cx="360.18" cy="578.88" r="3.15" fill="#444444"/>
<path d="M387.14,498.00 L387.14,605.84" fill="none" stroke="#8a0000" stroke-width="12" stroke-linecap="round" stroke-linejoin="round"/>
<path d="M387.14,498.00 L387.14,605.84" fill="none" stroke="#cc1515" stroke-width="6.3" stroke-linecap="butt"/>
<circle cx="387.14" cy="498.00" r="3.15" fill="#cc1515"/>
<circle cx="387.14" cy="605.84" r="3.15" fill="#cc1515"/>
<path d="M738,444.6 L745,444.6 L757.5,448.3" fill="none" stroke="#d7d23a" stroke-width="12" stroke-linecap="round" stroke-linejoin="round"/>
<path d="M252.34,444.08 L738.00,444.60" fill="none" stroke="#d7d23a" stroke-width="12" stroke-linecap="round" stroke-linejoin="round"/>
<path d="M252.34,444.08 L738.00,444.60" fill="none" stroke="#fff700" stroke-width="6.3" stroke-linecap="butt"/>
<circle cx="252.34" cy="444.08" r="3.15" fill="#fff700"/>
<path d="M279.30,471.04 L757.00,470.90" fill="none" stroke="#9a9a9a" stroke-width="12" stroke-linecap="round" stroke-linejoin="round"/>
<path d="M279.30,471.04 L757.00,470.90" fill="none" stroke="#ffffff" stroke-width="6.3" stroke-linecap="butt"/>
<circle cx="279.30" cy="471.04" r="3.15" fill="#ffffff"/>
<circle cx="757.00" cy="470.90" r="3.15" fill="#ffffff"/>
<path d="M602.82,578.88 L707.00,578.88 L707.00,515.00 L757.00,515.00" fill="none" stroke="#0c0c0c" stroke-width="12" stroke-linecap="round" stroke-linejoin="round"/>
<path d="M602.82,578.88 L700.50,578.88" fill="none" stroke="#444444" stroke-width="6.3" stroke-linecap="butt"/>
<circle cx="602.82" cy="578.88" r="3.15" fill="#444444"/>
<path d="M707.00,572.38 L707.00,521.50" fill="none" stroke="#444444" stroke-width="6.3" stroke-linecap="butt"/>
<path d="M713.50,515.00 L757.00,515.00" fill="none" stroke="#444444" stroke-width="6.3" stroke-linecap="butt"/>
<circle cx="757.00" cy="515.00" r="3.15" fill="#444444"/>
<path d="M602.82,605.84 L731.30,605.84 L731.30,491.80 L757.00,491.80" fill="none" stroke="#8a0000" stroke-width="12" stroke-linecap="round" stroke-linejoin="round"/>
<path d="M602.82,605.84 L724.80,605.84" fill="none" stroke="#cc1515" stroke-width="6.3" stroke-linecap="butt"/>
<circle cx="602.82" cy="605.84" r="3.15" fill="#cc1515"/>
<path d="M731.30,599.34 L731.30,498.30" fill="none" stroke="#cc1515" stroke-width="6.3" stroke-linecap="butt"/>
<path d="M737.80,491.80 L757.00,491.80" fill="none" stroke="#cc1515" stroke-width="6.3" stroke-linecap="butt"/>
<circle cx="757.00" cy="491.80" r="3.15" fill="#cc1515"/>
<circle cx="198.42" cy="93.60" r="7.6" fill="none" stroke="#9ee89e" stroke-width="1.6" opacity="0.8"/>
<circle cx="198.42" cy="93.60" r="6.3" fill="#40c040" fill-opacity="0.28" stroke="#48dc48" stroke-width="1.5" stroke-opacity="0.9"/>
<circle cx="198.42" cy="201.44" r="7.6" fill="none" stroke="#9ee89e" stroke-width="1.6" opacity="0.8"/>
<circle cx="198.42" cy="201.44" r="6.3" fill="#40c040" fill-opacity="0.28" stroke="#48dc48" stroke-width="1.5" stroke-opacity="0.9"/>
<circle cx="63.62" cy="228.40" r="7.6" fill="none" stroke="#9ee89e" stroke-width="1.6" opacity="0.8"/>
<circle cx="63.62" cy="228.40" r="6.3" fill="#40c040" fill-opacity="0.28" stroke="#48dc48" stroke-width="1.5" stroke-opacity="0.9"/>
<circle cx="117.54" cy="228.40" r="7.6" fill="none" stroke="#9ee89e" stroke-width="1.6" opacity="0.8"/>
<circle cx="117.54" cy="228.40" r="6.3" fill="#40c040" fill-opacity="0.28" stroke="#48dc48" stroke-width="1.5" stroke-opacity="0.9"/>
<circle cx="144.50" cy="228.40" r="7.6" fill="none" stroke="#9ee89e" stroke-width="1.6" opacity="0.8"/>
<circle cx="144.50" cy="228.40" r="6.3" fill="#40c040" fill-opacity="0.28" stroke="#48dc48" stroke-width="1.5" stroke-opacity="0.9"/>
<circle cx="306.26" cy="228.40" r="7.6" fill="none" stroke="#9ee89e" stroke-width="1.6" opacity="0.8"/>
<circle cx="306.26" cy="228.40" r="6.3" fill="#40c040" fill-opacity="0.28" stroke="#48dc48" stroke-width="1.5" stroke-opacity="0.9"/>
<circle cx="360.18" cy="498.00" r="7.6" fill="none" stroke="#9ee89e" stroke-width="1.6" opacity="0.8"/>
<circle cx="360.18" cy="498.00" r="6.3" fill="#40c040" fill-opacity="0.28" stroke="#48dc48" stroke-width="1.5" stroke-opacity="0.9"/>
<circle cx="360.18" cy="578.88" r="7.6" fill="none" stroke="#9ee89e" stroke-width="1.6" opacity="0.8"/>
<circle cx="360.18" cy="578.88" r="6.3" fill="#40c040" fill-opacity="0.28" stroke="#48dc48" stroke-width="1.5" stroke-opacity="0.9"/>
<circle cx="387.14" cy="498.00" r="7.6" fill="none" stroke="#9ee89e" stroke-width="1.6" opacity="0.8"/>
<circle cx="387.14" cy="498.00" r="6.3" fill="#40c040" fill-opacity="0.28" stroke="#48dc48" stroke-width="1.5" stroke-opacity="0.9"/>
<circle cx="387.14" cy="605.84" r="7.6" fill="none" stroke="#9ee89e" stroke-width="1.6" opacity="0.8"/>
<circle cx="387.14" cy="605.84" r="6.3" fill="#40c040" fill-opacity="0.28" stroke="#48dc48" stroke-width="1.5" stroke-opacity="0.9"/>
<circle cx="252.34" cy="444.08" r="7.6" fill="none" stroke="#9ee89e" stroke-width="1.6" opacity="0.8"/>
<circle cx="252.34" cy="444.08" r="6.3" fill="#40c040" fill-opacity="0.28" stroke="#48dc48" stroke-width="1.5" stroke-opacity="0.9"/>
<circle cx="279.30" cy="471.04" r="7.6" fill="none" stroke="#9ee89e" stroke-width="1.6" opacity="0.8"/>
<circle cx="279.30" cy="471.04" r="6.3" fill="#40c040" fill-opacity="0.28" stroke="#48dc48" stroke-width="1.5" stroke-opacity="0.9"/>
<circle cx="602.82" cy="578.88" r="7.6" fill="none" stroke="#9ee89e" stroke-width="1.6" opacity="0.8"/>
<circle cx="602.82" cy="578.88" r="6.3" fill="#40c040" fill-opacity="0.28" stroke="#48dc48" stroke-width="1.5" stroke-opacity="0.9"/>
<circle cx="602.82" cy="605.84" r="7.6" fill="none" stroke="#9ee89e" stroke-width="1.6" opacity="0.8"/>
<circle cx="602.82" cy="605.84" r="6.3" fill="#40c040" fill-opacity="0.28" stroke="#48dc48" stroke-width="1.5" stroke-opacity="0.9"/>
<path d="M769.5,375 L851.5,375 A16,16 0 0 1 883.5,375 L965.5,375 Q973.5,375 973.5,383 L973.5,579.5 Q973.5,587.5 965.5,587.5 L884,587.5 L884,589.6 L878,589.6 L878,587.5 L769.5,587.5 Q761.5,587.5 761.5,579.5 L761.5,383 Q761.5,375 769.5,375 Z" fill="#25498a"/>
<circle cx="867.5" cy="372" r="10" fill="#fff"/>
<circle cx="974.5" cy="481.2" r="16.3" fill="#fff"/>
<circle cx="867.6" cy="588" r="10" fill="#fff"/>
<rect x="855" y="588" width="30" height="5" fill="#fff"/>
<path d="M761.5,464.3 A16.5,16.5 0 0 1 761.5,497.3 Z" fill="#e8e8e8"/>
<rect x="755.3" y="434.1" width="6.2" height="94.7" fill="#f4f4f4" stroke="#555" stroke-width="0.8"/>
<text x="763.5" y="443.3" style="font-family:'Liberation Mono'" font-size="4.6" fill="#b4bede">SCL</text>
<text x="763.5" y="463.3" style="font-family:'Liberation Mono'" font-size="4.6" fill="#b4bede">SDA</text>
<text x="763.5" y="510.40000000000003" style="font-family:'Liberation Mono'" font-size="4.6" fill="#b4bede">VCC</text>
<text x="763.5" y="524.5999999999999" style="font-family:'Liberation Mono'" font-size="4.6" fill="#b4bede">GND</text>
<rect x="821.5" y="403.9" width="11.5" height="21.3" fill="#5e5e5e" stroke="#333" stroke-width="0.7"/>
<rect x="821.9" y="404.3" width="10.7" height="3.8" fill="#b9b9b9"/>
<rect x="821.9" y="421.0" width="10.7" height="3.8" fill="#b9b9b9"/>
<rect x="838.6" y="404.0" width="6.0" height="6.0" fill="#b9b9b9" stroke="#444" stroke-width="0.5"/>
<rect x="838.6" y="419.0" width="6.0" height="6.0" fill="#b9b9b9" stroke="#444" stroke-width="0.5"/>
<rect x="861.5" y="411.0" width="6.1" height="5.9" fill="#b9b9b9" stroke="#444" stroke-width="0.5"/>
<rect x="844.3" y="399.2" width="17.5" height="29.2" fill="#666" stroke="#333" stroke-width="0.8"/>
<rect x="887.4" y="403.5" width="12.0" height="21.9" fill="#5e5e5e" stroke="#333" stroke-width="0.7"/>
<rect x="887.8" y="403.9" width="11.2" height="3.8" fill="#b9b9b9"/>
<rect x="887.8" y="421.2" width="11.2" height="3.8" fill="#b9b9b9"/>
<rect x="904.9" y="403.5" width="11.7" height="21.9" fill="#9b8474" stroke="#333" stroke-width="0.7"/>
<rect x="905.3" y="403.9" width="10.9" height="3.8" fill="#b9b9b9"/>
<rect x="905.3" y="421.2" width="10.9" height="3.8" fill="#b9b9b9"/>
<rect x="922.0" y="402.6" width="6.0" height="5.7" fill="#b9b9b9" stroke="#444" stroke-width="0.5"/>
<rect x="922.0" y="419.8" width="6.0" height="5.7" fill="#b9b9b9" stroke="#444" stroke-width="0.5"/>
<rect x="945.0" y="410.9" width="6.2" height="6.0" fill="#b9b9b9" stroke="#444" stroke-width="0.5"/>
<rect x="927.7" y="399.2" width="17.7" height="29.3" fill="#666" stroke="#333" stroke-width="0.8"/>
<rect x="926.5" y="439.5" width="21.8" height="12.0" fill="#9b8474" stroke="#333" stroke-width="0.7"/>
<rect x="926.9" y="439.9" width="3.8" height="11.2" fill="#b9b9b9"/>
<rect x="944.1" y="439.9" width="3.8" height="11.2" fill="#b9b9b9"/>
<rect x="922.0" y="459.7" width="29.2" height="17.7" fill="#9b8474" stroke="#333" stroke-width="0.7"/>
<rect x="922.4" y="460.1" width="4.2" height="16.9" fill="#b9b9b9"/>
<rect x="946.6" y="460.1" width="4.2" height="16.9" fill="#b9b9b9"/>
<rect x="922.0" y="488.4" width="29.2" height="18.0" fill="#9b8474" stroke="#333" stroke-width="0.7"/>
<rect x="922.4" y="488.8" width="4.2" height="17.2" fill="#b9b9b9"/>
<rect x="946.6" y="488.8" width="4.2" height="17.2" fill="#b9b9b9"/>
<rect x="923.7" y="514.4" width="21.9" height="12.0" fill="#9b8474" stroke="#333" stroke-width="0.7"/>
<rect x="924.1" y="514.8" width="3.8" height="11.2" fill="#b9b9b9"/>
<rect x="941.4" y="514.8" width="3.8" height="11.2" fill="#b9b9b9"/>
<rect x="835.8" y="462.8" width="60.5" height="37.1" fill="#555" stroke="#333" stroke-width="0.8"/>
<circle cx="850.8" cy="481" r="4.5" fill="#9b8474" stroke="#333" stroke-width="0.6"/>
<rect x="876" y="471.2" width="11.8" height="20.2" fill="#9b8474" stroke="#333" stroke-width="0.6"/>
<rect x="804.2" y="472.6" width="11.5" height="21.8" fill="#5e5e5e" stroke="#333" stroke-width="0.7"/>
<rect x="804.6" y="473.0" width="10.7" height="3.8" fill="#b9b9b9"/>
<rect x="804.6" y="490.2" width="10.7" height="3.8" fill="#b9b9b9"/>
<rect x="804.2" y="508.7" width="11.5" height="21.9" fill="#5e5e5e" stroke="#333" stroke-width="0.7"/>
<rect x="804.6" y="509.1" width="10.7" height="3.8" fill="#b9b9b9"/>
<rect x="804.6" y="526.4" width="10.7" height="3.8" fill="#b9b9b9"/>
<rect x="783.8" y="551.9" width="6.2" height="6.0" fill="#b9b9b9" stroke="#444" stroke-width="0.5"/>
<rect x="807.0" y="543.6" width="6.1" height="5.5" fill="#b9b9b9" stroke="#444" stroke-width="0.5"/>
<rect x="807.0" y="560.3" width="6.1" height="5.9" fill="#b9b9b9" stroke="#444" stroke-width="0.5"/>
<rect x="789.6" y="540.2" width="17.6" height="29.4" fill="#666" stroke="#333" stroke-width="0.8"/>
<rect x="821.5" y="543.6" width="11.7" height="21.3" fill="#5e5e5e" stroke="#333" stroke-width="0.7"/>
<rect x="821.9" y="544.0" width="10.9" height="3.8" fill="#b9b9b9"/>
<rect x="821.9" y="560.7" width="10.9" height="3.8" fill="#b9b9b9"/>
<rect x="838.6" y="543.6" width="11.8" height="21.3" fill="#9b8474" stroke="#333" stroke-width="0.7"/>
<rect x="839.0" y="544.0" width="11.0" height="3.8" fill="#b9b9b9"/>
<rect x="839.0" y="560.7" width="11.0" height="3.8" fill="#b9b9b9"/>
<rect x="855.7" y="543.6" width="11.8" height="21.3" fill="#9b8474" stroke="#333" stroke-width="0.7"/>
<rect x="856.1" y="544.0" width="11.0" height="3.8" fill="#b9b9b9"/>
<rect x="856.1" y="560.7" width="11.0" height="3.8" fill="#b9b9b9"/>
<rect x="872.9" y="543.6" width="11.8" height="21.3" fill="#9b8474" stroke="#333" stroke-width="0.7"/>
<rect x="873.3" y="544.0" width="11.0" height="3.8" fill="#b9b9b9"/>
<rect x="873.3" y="560.7" width="11.0" height="3.8" fill="#b9b9b9"/>
<rect x="890.2" y="543.6" width="11.8" height="21.3" fill="#9b8474" stroke="#333" stroke-width="0.7"/>
<rect x="890.6" y="544.0" width="11.0" height="3.8" fill="#b9b9b9"/>
<rect x="890.6" y="560.7" width="11.0" height="3.8" fill="#b9b9b9"/>
<rect x="907.5" y="543.6" width="11.8" height="21.3" fill="#9b8474" stroke="#333" stroke-width="0.7"/>
<rect x="907.9" y="544.0" width="11.0" height="3.8" fill="#b9b9b9"/>
<rect x="907.9" y="560.7" width="11.0" height="3.8" fill="#b9b9b9"/>
<rect x="927.6" y="540.4" width="6.4" height="5.6" fill="#b9b9b9" stroke="#444" stroke-width="0.5"/>
<rect x="927.6" y="558.0" width="6.4" height="5.6" fill="#b9b9b9" stroke="#444" stroke-width="0.5"/>
<rect x="951.0" y="549.0" width="5.8" height="5.8" fill="#b9b9b9" stroke="#444" stroke-width="0.5"/>
<rect x="933.6" y="537.6" width="17.6" height="28.8" fill="#666" stroke="#333" stroke-width="0.8"/>
<circle cx="757.3" cy="448.3" r="7.2" fill="#9de89d" opacity="0.45"/>
<circle cx="757.3" cy="448.3" r="5.4" fill="#c8f010" stroke="#7ee030" stroke-width="1.6"/>
<circle cx="757.3" cy="470.9" r="7.2" fill="#9de89d" opacity="0.45"/>
<circle cx="757.3" cy="470.9" r="5.4" fill="#d0f4d0" stroke="#7f9f7f" stroke-width="1.6"/>
<circle cx="757.3" cy="491.8" r="7.2" fill="#9de89d" opacity="0.45"/>
<circle cx="757.3" cy="491.8" r="5.4" fill="#a8481a" stroke="#3aa83a" stroke-width="1.6"/>
<circle cx="757.3" cy="515" r="7.2" fill="#9de89d" opacity="0.45"/>
<circle cx="757.3" cy="515" r="5.4" fill="#3a5e3a" stroke="#186018" stroke-width="1.6"/>
<path d="M858.20,62.50 L884.00,89.20 L870.60,89.20 L870.60,117.20 L845.50,117.20 L845.50,89.20 L832.40,89.20 Z" fill="none" stroke="#3c46c8" stroke-width="4.7" stroke-linejoin="round"/>
<path d="M858.00,225.50 L883.60,197.40 L870.75,197.40 L870.75,169.40 L845.40,169.40 L845.40,197.40 L832.40,197.40 Z" fill="none" stroke="#3c46c8" stroke-width="4.7" stroke-linejoin="round"/>
<path d="M781.70,145.90 L805.45,123.30 L805.45,134.50 L829.40,134.50 L829.40,157.25 L805.45,157.25 L805.45,168.40 Z" fill="none" stroke="#3c46c8" stroke-width="4.7" stroke-linejoin="round"/>
<path d="M935.60,143.30 L910.70,120.40 L910.70,131.55 L886.35,131.55 L886.35,154.25 L910.70,154.25 L910.70,166.40 Z" fill="none" stroke="#3c46c8" stroke-width="4.7" stroke-linejoin="round"/>
<path d="M802.00,339.30 L818.70,320.35 L810.45,320.35 L810.45,301.25 L793.40,301.25 L793.40,320.35 L785.30,320.35 Z" fill="none" stroke="#3c46c8" stroke-width="4.7" stroke-linejoin="round"/>
<path d="M925.10,298.40 L943.40,319.25 L934.40,319.25 L934.40,341.20 L915.60,341.20 L915.60,319.25 L906.55,319.25 Z" fill="none" stroke="#3c46c8" stroke-width="4.7" stroke-linejoin="round"/>
<path d="M765.4,347.4 L828.6,347.4 M895.4,348.5 L952.4,348.5" stroke="#3c46c8" stroke-width="4.7" stroke-linecap="round"/>
<text transform="translate(838.6,49.9) scale(1.093,1.04)" x="0" y="0" font-size="28.5" fill="#3c46c8" stroke="#fff" stroke-width="0.5">up</text>
<text transform="translate(773.8,117.9) scale(1.108,1.04)" x="0" y="0" font-size="28.5" fill="#3c46c8" stroke="#fff" stroke-width="0.5">left</text>
<text transform="translate(911.4,114.6) scale(1.119,1.04)" x="0" y="0" font-size="28.5" fill="#3c46c8" stroke="#fff" stroke-width="0.5">right</text>
<text transform="translate(827.05,253.9) scale(1.046,1.04)" x="0" y="0" font-size="28.5" fill="#3c46c8" stroke="#fff" stroke-width="0.5">down</text>
<text transform="translate(758.6,293.8) scale(1.056,1.04)" x="0" y="0" font-size="28.5" fill="#3c46c8" stroke="#fff" stroke-width="0.5">forward</text>
<text transform="translate(895.8,293.8) scale(1.021,1.04)" x="0" y="0" font-size="28.5" fill="#3c46c8" stroke="#fff" stroke-width="0.5">back</text>
<g fill="none" stroke="#8a8a8a" stroke-width="5.2" stroke-linecap="round" stroke-linejoin="round">
<path d="M799.5,620 L796,620 Q790.2,620 790.2,626 L790.2,651"/>
<path d="M783.5,631.5 L798.5,631.5"/>
<path d="M807.5,631 L807.5,647"/><path d="M807.5,639.5 L814.5,632 L819.5,631.5"/>
<path d="M832,631.5 L832,651"/>
<path d="M847.2,620 L847.2,646 Q847.2,651 852.5,651 L855,651"/><path d="M841,631.5 L856,631.5"/>
<path d="M864.5,631.5 L880.5,631.5 L864,650.3 L878,650.3"/>
<path d="M890,631.5 L895.5,631.5 L895.5,651"/>
<path d="M908.5,631.5 L908.5,651"/><path d="M908.5,631.5 L918,631.5 Q924.3,631.5 924.3,638 L924.3,646"/>
<path d="M952.5,631.5 L952.5,655 Q952.5,661.5 946,661.5 L938,661.5"/><path d="M952.5,631.5 L943,631.5 Q936.5,631.5 936.5,638 L936.5,644 Q936.5,650.3 943,650.3 Q947,650.3 952.5,643"/>
</g>
<circle cx="807.5" cy="650.5" r="3.4" fill="#fff" stroke="#8a8a8a" stroke-width="2.8"/>
<circle cx="831.5" cy="620" r="3.4" fill="#fff" stroke="#8a8a8a" stroke-width="2.8"/>
<circle cx="881.5" cy="650.5" r="3.4" fill="#fff" stroke="#8a8a8a" stroke-width="2.8"/>
<circle cx="895.2" cy="620" r="3.4" fill="#fff" stroke="#8a8a8a" stroke-width="2.8"/>
<circle cx="924.3" cy="650.5" r="3.4" fill="#fff" stroke="#8a8a8a" stroke-width="2.8"/>
</svg>
</body></html>
